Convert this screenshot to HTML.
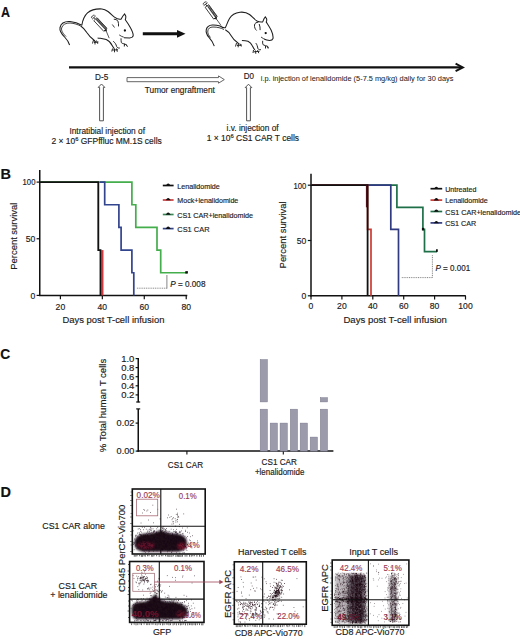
<!DOCTYPE html>
<html><head><meta charset="utf-8"><style>
html,body{margin:0;padding:0;background:#fff;width:520px;height:639px;overflow:hidden}
svg{display:block}
text{font-family:"Liberation Sans", sans-serif}
</style></head><body>
<svg width="520" height="639" viewBox="0 0 520 639" fill="#1c1c1c">
<defs><filter id="bl" x="-30%" y="-30%" width="160%" height="160%"><feGaussianBlur stdDeviation="1.8"/></filter><filter id="bl1" x="-30%" y="-30%" width="160%" height="160%"><feGaussianBlur stdDeviation="1.1"/></filter></defs>
<rect width="520" height="639" fill="#fff"/>
<text x="0.90" y="16.90" font-size="14.5" fill="#111" stroke="#111" stroke-width="0.16" font-weight="bold" textLength="9.00" lengthAdjust="spacingAndGlyphs">A</text>
<path d="M81.8,25.3 C78,23 74,21.9 70,21.6 C65,21.3 61,23.5 60,27.5 C59.3,31 62,34.5 65,37.5 C67.5,40 68.8,42.5 69.6,45" stroke="#1e1e1e" stroke-width="1.05" fill="none"/>
<path d="M81.5,26.5 C78,24.5 74,23.2 70,23 C66,22.8 62.5,24.5 61.6,28 C61,31 63.5,34 66,36.5" stroke="#1e1e1e" stroke-width="0.85" fill="none"/>
<path d="M81.8,25.3 C82.5,21 84,16 87.5,12.8 C91,9.8 96,8.6 101.9,8.9 C104,9 106,10 108,11.5 C110.5,13.5 112.5,15.5 114.5,17.2 C116.5,18.7 119,19.5 121,19.2 L122.9,16.0 L124.6,13.9 L125.8,16.2 C125.9,17.5 125.7,18.8 125.3,19.7 C127,22 129,25 130.6,28 C132.2,31 133.3,33.5 133.2,35.5 C133,37 131.5,37.8 129.6,37.9 L124,37.7" stroke="#1e1e1e" stroke-width="1.05" fill="none"/>
<path d="M113.8,19.2 C115.5,19.3 117,19.8 117.9,21 C118.6,22.6 118.6,24.5 118.5,26.4" stroke="#1e1e1e" stroke-width="0.95" fill="none"/>
<path d="M112.3,24.5 L114.5,27.5" stroke="#1e1e1e" stroke-width="0.85" fill="none"/>
<path d="M119.2,34.9 C120.8,36 122.3,36.8 123.8,37.2" stroke="#1e1e1e" stroke-width="0.85" fill="none"/>
<circle cx="124.9" cy="30.5" r="1.15" fill="#111"/>
<path d="M81,26.2 C83,27.5 85,29.5 86.8,32.5 C88.5,35 90.5,37.5 93,39.3 C94.2,40.2 95,41 95.5,42" stroke="#1e1e1e" stroke-width="1.05" fill="none"/>
<path d="M93.5,40 L92.5,43.5 M95,41 L95,44.5 M96.5,40.5 L97.8,43.8 M94,42.5 L98.5,42" stroke="#1e1e1e" stroke-width="0.95" fill="none"/>
<path d="M97.6,37.9 C101,38.5 104,38.8 106.2,39.6 C108.5,40.5 110.8,43 112.3,45.7 C113,47 113.8,48.2 114.5,48.8" stroke="#1e1e1e" stroke-width="1.05" fill="none"/>
<path d="M112.5,48.5 L111.8,51.5 M114.5,49 L114.5,52.3 M116.5,48.5 L117.3,51.8 M112.5,50 L118,49.8" stroke="#1e1e1e" stroke-width="0.95" fill="none"/>
<path d="M113.2,41.3 C115,42.5 116.2,44.5 116.6,46.5 C117.2,47.8 118.5,48.3 119.8,48" stroke="#1e1e1e" stroke-width="0.95" fill="none"/>
<path d="M121,38.3 C121.2,40 121,41.5 121.3,42.5 C122,43.5 123.5,43.8 125,44 L127,45.5 M124.5,44 L124.3,46.5 M126.3,44.5 L127.5,46.8" stroke="#1e1e1e" stroke-width="0.95" fill="none"/>
<path d="M105.99,30.50 L109.2,38.2" stroke="#222" stroke-width="0.75"/>
<g transform="translate(100.4,24.5) rotate(47)"><rect x="-7.3" y="-2.2" width="14.6" height="4.4" fill="#fff" stroke="#222" stroke-width="0.8"/><rect x="-6.7" y="-2.2" width="13.4" height="2.3" fill="#3a3a3a"/><path d="M-6.3,-1.2 L6.3,-1.2" stroke="#fff" stroke-width="0.5" stroke-dasharray="0.9 0.7"/><path d="M-7.3,0 L-9.5,0 M-9.5,-2.4 L-9.5,2.4 M-10.5,-2.0 C-12.1,-2.0 -12.1,2.0 -10.5,2.0" stroke="#222" stroke-width="0.85" fill="none"/><path d="M7.3,-1.3 L8.9,0 L7.3,1.3 Z" fill="#111" stroke="#111" stroke-width="0.5"/></g>
<path d="M220.1,26 C217.5,25.3 215,25 212.3,25.1 C209.5,25.3 207,26.8 206.3,29.5 C205.6,32.5 207,35 208.8,37.2 C211,39.6 213,42.5 214.3,46.2" stroke="#1e1e1e" stroke-width="1.05" fill="none"/>
<path d="M224,29.5 C221,28 217.5,27 213,27 C210,27 208,28.5 207.8,31 C207.5,33.5 208.8,35.5 210.5,37.5" stroke="#1e1e1e" stroke-width="0.85" fill="none"/>
<path d="M220.1,26 C222,27.3 224,28 225.3,27.7 C226.5,25.5 227.5,22 229.5,18.5 C231.5,15 235,12.8 240,12.2 C244,11.8 247,12.6 249.5,14.5 C252,16.5 254.5,19.5 257,21 C259,22 261,22.2 262.7,21.9 L264,18.8 L265.3,17 L266.6,18.8 C266.9,20 266.7,21 266.2,21.9 C267.5,24 269.5,27 271.2,30.2 C272.7,33.5 273.3,36.5 273,38.5 C272.5,40 271,40.5 269.6,40.5 C267.5,40.4 265.8,40 264.5,39.3" stroke="#1e1e1e" stroke-width="1.05" fill="none"/>
<path d="M258.4,22.3 C256.5,22.2 254.8,23 254.5,25 C254.3,27.3 255.2,29.3 256.6,30.5" stroke="#1e1e1e" stroke-width="0.95" fill="none"/>
<path d="M259.2,24 C260,26 260.2,28 260.1,30.1" stroke="#1e1e1e" stroke-width="0.95" fill="none"/>
<path d="M261,37 C262.5,38.2 264,39 265.5,39.5" stroke="#1e1e1e" stroke-width="0.85" fill="none"/>
<circle cx="265.7" cy="33.1" r="1.15" fill="#111"/>
<path d="M225.3,29.8 C227.5,31 229.5,33 231,35.5 C232.5,38 234.5,40.5 236.8,42 C237.8,42.7 238.5,43.5 239,44.5" stroke="#1e1e1e" stroke-width="1.05" fill="none"/>
<path d="M236.5,43 L235.5,46.5 M238.2,43.8 L238.2,47.3 M239.8,43.5 L241.3,46.5 M237,45.5 L242,45" stroke="#1e1e1e" stroke-width="0.95" fill="none"/>
<path d="M241.9,40.5 C244.5,40.5 246.5,40.8 248,41.3 C250,42.3 251.5,44 252.3,45.7 C253.2,47.5 254,49 254.9,50" stroke="#1e1e1e" stroke-width="1.05" fill="none"/>
<path d="M253.5,50 L253,53 M255.5,50.5 L255.8,53.8 M257.5,50.2 L258.8,53.2 M254,51.8 L259.5,51.3" stroke="#1e1e1e" stroke-width="0.95" fill="none"/>
<path d="M255.8,43.1 C257,44.5 257.5,46.5 257.9,48.5 C258.5,49.7 259.8,50 261,49.6" stroke="#1e1e1e" stroke-width="0.95" fill="none"/>
<path d="M262.7,40.8 C262.5,42.5 262.6,44 263.2,44.8 C264.5,45.5 266,45.8 267.5,46.2 L268.5,47.8 M265.5,46 L265.5,48.5 M267.2,46.3 L268.2,48.6" stroke="#1e1e1e" stroke-width="0.95" fill="none"/>
<path d="M216.02,18.53 L221.0,25.4" stroke="#222" stroke-width="0.75"/>
<g transform="translate(211.2,11.9) rotate(54)"><rect x="-7.3" y="-2.2" width="14.6" height="4.4" fill="#fff" stroke="#222" stroke-width="0.8"/><rect x="-6.7" y="-2.2" width="13.4" height="2.3" fill="#3a3a3a"/><path d="M-6.3,-1.2 L6.3,-1.2" stroke="#fff" stroke-width="0.5" stroke-dasharray="0.9 0.7"/><path d="M-7.3,0 L-9.5,0 M-9.5,-2.4 L-9.5,2.4 M-10.5,-2.0 C-12.1,-2.0 -12.1,2.0 -10.5,2.0" stroke="#222" stroke-width="0.85" fill="none"/><path d="M7.3,-1.3 L8.9,0 L7.3,1.3 Z" fill="#111" stroke="#111" stroke-width="0.5"/></g>
<line x1="142.80" y1="33.80" x2="178.00" y2="33.80" stroke="#111" stroke-width="3"/>
<polygon points="177,30 185.5,33.8 177,37.7" fill="#111"/>
<line x1="69.00" y1="67.40" x2="462.00" y2="67.40" stroke="#111" stroke-width="2.3"/>
<path d="M455.6,63.7 L462.8,67.4 L455.6,71.1" stroke="#111" stroke-width="2.0" fill="none" stroke-linejoin="miter"/>
<text x="95.00" y="79.60" font-size="8.82" stroke="#1c1c1c" stroke-width="0.16" textLength="13.20" lengthAdjust="spacingAndGlyphs">D-5</text>
<text x="243.80" y="78.90" font-size="8.72" stroke="#1c1c1c" stroke-width="0.16" textLength="10.20" lengthAdjust="spacingAndGlyphs">D0</text>
<text x="260.80" y="80.90" font-size="7.88" stroke="#1c1c1c" stroke-width="0.05" textLength="192.60" lengthAdjust="spacingAndGlyphs">i.p. injection of lenalidomide (5-7.5 mg/kg) daily for 30 days</text>
<path d="M127,77.6 L218.5,77.6 L218.5,75.9 L224.3,79.6 L218.5,83.2 L218.5,81.7 L127,81.7 Z" fill="#fff" stroke="#555" stroke-width="0.9"/>
<text x="144.80" y="92.80" font-size="8.61" stroke="#1c1c1c" stroke-width="0.16" textLength="70.00" lengthAdjust="spacingAndGlyphs">Tumor engraftment</text>
<path d="M99.6,120.8 L99.6,87.4 L98.2,87.4 L101.5,84 L104.8,87.4 L103.4,87.4 L103.4,120.8 Z" fill="#fff" stroke="#4a4a4a" stroke-width="0.95"/>
<path d="M246.6,120.8 L246.6,87.60000000000001 L245.2,87.60000000000001 L248.5,84.2 L251.8,87.60000000000001 L250.4,87.60000000000001 L250.4,120.8 Z" fill="#fff" stroke="#4a4a4a" stroke-width="0.95"/>
<text x="107.20" y="133.80" font-size="8.61" text-anchor="middle" stroke="#1c1c1c" stroke-width="0.16" textLength="75.50" lengthAdjust="spacingAndGlyphs">Intratibial injection of</text>
<text x="51.50" y="144.10" font-size="8.45" stroke="#1c1c1c" stroke-width="0.16">2 × 10<tspan dy="-3" font-size="5.8">6</tspan><tspan dy="3"> GFPffluc MM.1S cells</tspan></text>
<text x="252.60" y="131.40" font-size="8.61" text-anchor="middle" stroke="#1c1c1c" stroke-width="0.16" textLength="52.00" lengthAdjust="spacingAndGlyphs">i.v. injection of</text>
<text x="206.80" y="141.20" font-size="8.45" stroke="#1c1c1c" stroke-width="0.16">1 × 10<tspan dy="-3" font-size="5.8">6</tspan><tspan dy="3"> CS1 CAR T cells</tspan></text>
<text x="0.40" y="178.60" font-size="14.5" fill="#111" stroke="#111" stroke-width="0.16" font-weight="bold">B</text>
<line x1="39.75" y1="170.00" x2="39.75" y2="296.10" stroke="#111" stroke-width="1.5"/>
<line x1="39.00" y1="295.40" x2="187.30" y2="295.40" stroke="#111" stroke-width="1.5"/>
<line x1="36.60" y1="182.10" x2="40.00" y2="182.10" stroke="#111" stroke-width="1.2"/>
<text x="35.40" y="185.40" font-size="8.72" text-anchor="end" stroke="#1c1c1c" stroke-width="0.16" textLength="12.80" lengthAdjust="spacingAndGlyphs">100</text>
<line x1="36.60" y1="238.75" x2="40.00" y2="238.75" stroke="#111" stroke-width="1.2"/>
<text x="35.40" y="242.05" font-size="8.6" text-anchor="end" stroke="#1c1c1c" stroke-width="0.16">50</text>
<line x1="36.60" y1="295.40" x2="40.00" y2="295.40" stroke="#111" stroke-width="1.2"/>
<text x="35.40" y="298.70" font-size="8.6" text-anchor="end" stroke="#1c1c1c" stroke-width="0.16">0</text>
<line x1="60.40" y1="295.40" x2="60.40" y2="299.20" stroke="#111" stroke-width="1.2"/>
<text x="60.40" y="309.60" font-size="8.6" text-anchor="middle" stroke="#1c1c1c" stroke-width="0.16">20</text>
<line x1="102.34" y1="295.40" x2="102.34" y2="299.20" stroke="#111" stroke-width="1.2"/>
<text x="102.34" y="309.60" font-size="8.6" text-anchor="middle" stroke="#1c1c1c" stroke-width="0.16">40</text>
<line x1="144.28" y1="295.40" x2="144.28" y2="299.20" stroke="#111" stroke-width="1.2"/>
<text x="144.28" y="309.60" font-size="8.6" text-anchor="middle" stroke="#1c1c1c" stroke-width="0.16">60</text>
<line x1="186.22" y1="295.40" x2="186.22" y2="299.20" stroke="#111" stroke-width="1.2"/>
<text x="186.22" y="309.60" font-size="8.6" text-anchor="middle" stroke="#1c1c1c" stroke-width="0.16">80</text>
<text x="0.00" y="0.00" font-size="9.87" text-anchor="middle" stroke="#1c1c1c" stroke-width="0.16" textLength="67.00" lengthAdjust="spacingAndGlyphs" transform="translate(17.1,236.2) rotate(-90)">Percent survival</text>
<text x="113.40" y="322.60" font-size="9.66" text-anchor="middle" stroke="#1c1c1c" stroke-width="0.16" textLength="102.00" lengthAdjust="spacingAndGlyphs">Days post T-cell infusion</text>
<path d="M40,182.09999999999997 L131.9,182.09999999999997 L131.9,204.76 L135.8,204.76 L135.8,227.41999999999996 L157,227.41999999999996 L157,250.07999999999998 L160.7,250.07999999999998 L160.7,272.73999999999995 L187,272.73999999999995" stroke="#44ad4c" stroke-width="1.7" fill="none"/>
<path d="M100,182.09999999999997 L104.7,182.09999999999997 L104.7,204.76 L118.9,204.76 L118.9,227.41999999999996 L121.1,227.41999999999996 L121.1,250.07999999999998 L131.9,250.07999999999998 L131.9,272.73999999999995 L133.8,272.73999999999995 L133.8,295.4" stroke="#33448f" stroke-width="1.7" fill="none"/>
<path d="M102.4,250.07999999999998 L102.4,295.4" stroke="#d03a3e" stroke-width="2.2" fill="none"/>
<path d="M40,182.09999999999997 L98.3,182.09999999999997 L98.3,250.07999999999998 L100.5,250.07999999999998 L100.5,295.4" stroke="#111" stroke-width="1.85" fill="none"/>
<rect x="185.3" y="271.14" width="2.6" height="2.4" fill="#111"/>
<line x1="136.90" y1="288.20" x2="167.00" y2="288.20" stroke="#777" stroke-width="0.9" stroke-dasharray="1 0.8"/>
<line x1="166.90" y1="275.00" x2="166.90" y2="288.60" stroke="#777" stroke-width="0.9"/>
<text x="170.20" y="286.50" font-size="8.61" stroke="#1c1c1c" stroke-width="0.16" textLength="35.30" lengthAdjust="spacingAndGlyphs"><tspan font-style="italic">P</tspan> = 0.008</text>
<line x1="162.80" y1="185.50" x2="173.60" y2="185.50" stroke="#111" stroke-width="1.7"/>
<path d="M165.60,185.80 C166.60,184.90 167.00,183.50 168.20,183.50 C169.40,183.50 169.80,184.90 170.80,185.80 Z" fill="#111"/>
<text x="177.30" y="188.60" font-size="7.98" stroke="#1c1c1c" stroke-width="0.16" textLength="42.50" lengthAdjust="spacingAndGlyphs">Lenalidomide</text>
<line x1="162.80" y1="200.00" x2="173.60" y2="200.00" stroke="#d03a3e" stroke-width="1.7"/>
<path d="M165.60,200.30 C166.60,199.40 167.00,198.00 168.20,198.00 C169.40,198.00 169.80,199.40 170.80,200.30 Z" fill="#111"/>
<text x="177.30" y="203.10" font-size="7.98" stroke="#1c1c1c" stroke-width="0.16" textLength="61.00" lengthAdjust="spacingAndGlyphs">Mock+lenalidomide</text>
<line x1="162.80" y1="214.50" x2="173.60" y2="214.50" stroke="#3a8a56" stroke-width="1.7"/>
<path d="M165.60,214.80 C166.60,213.90 167.00,212.50 168.20,212.50 C169.40,212.50 169.80,213.90 170.80,214.80 Z" fill="#111"/>
<text x="177.30" y="217.60" font-size="7.98" stroke="#1c1c1c" stroke-width="0.16" textLength="75.80" lengthAdjust="spacingAndGlyphs">CS1 CAR+lenalidomide</text>
<line x1="162.80" y1="228.60" x2="173.60" y2="228.60" stroke="#33448f" stroke-width="1.7"/>
<path d="M165.60,228.90 C166.60,228.00 167.00,226.60 168.20,226.60 C169.40,226.60 169.80,228.00 170.80,228.90 Z" fill="#111"/>
<text x="177.30" y="231.70" font-size="7.98" stroke="#1c1c1c" stroke-width="0.16" textLength="32.20" lengthAdjust="spacingAndGlyphs">CS1 CAR</text>
<line x1="311.00" y1="173.70" x2="311.00" y2="296.50" stroke="#111" stroke-width="1.5"/>
<line x1="310.25" y1="295.80" x2="465.80" y2="295.80" stroke="#111" stroke-width="1.5"/>
<line x1="307.80" y1="185.20" x2="311.20" y2="185.20" stroke="#111" stroke-width="1.2"/>
<text x="306.20" y="188.60" font-size="8.72" text-anchor="end" stroke="#1c1c1c" stroke-width="0.16" textLength="12.80" lengthAdjust="spacingAndGlyphs">100</text>
<line x1="307.80" y1="240.50" x2="311.20" y2="240.50" stroke="#111" stroke-width="1.2"/>
<text x="306.20" y="243.90" font-size="8.6" text-anchor="end" stroke="#1c1c1c" stroke-width="0.16">50</text>
<line x1="307.80" y1="295.80" x2="311.20" y2="295.80" stroke="#111" stroke-width="1.2"/>
<text x="306.20" y="299.20" font-size="8.6" text-anchor="end" stroke="#1c1c1c" stroke-width="0.16">0</text>
<line x1="311.00" y1="295.80" x2="311.00" y2="299.60" stroke="#111" stroke-width="1.2"/>
<text x="311.00" y="309.00" font-size="8.6" text-anchor="middle" stroke="#1c1c1c" stroke-width="0.16">0</text>
<line x1="341.90" y1="295.80" x2="341.90" y2="299.60" stroke="#111" stroke-width="1.2"/>
<text x="341.90" y="309.00" font-size="8.6" text-anchor="middle" stroke="#1c1c1c" stroke-width="0.16">20</text>
<line x1="372.80" y1="295.80" x2="372.80" y2="299.60" stroke="#111" stroke-width="1.2"/>
<text x="372.80" y="309.00" font-size="8.6" text-anchor="middle" stroke="#1c1c1c" stroke-width="0.16">40</text>
<line x1="403.70" y1="295.80" x2="403.70" y2="299.60" stroke="#111" stroke-width="1.2"/>
<text x="403.70" y="309.00" font-size="8.6" text-anchor="middle" stroke="#1c1c1c" stroke-width="0.16">60</text>
<line x1="434.60" y1="295.80" x2="434.60" y2="299.60" stroke="#111" stroke-width="1.2"/>
<text x="434.60" y="309.00" font-size="8.6" text-anchor="middle" stroke="#1c1c1c" stroke-width="0.16">80</text>
<line x1="465.50" y1="295.80" x2="465.50" y2="299.60" stroke="#111" stroke-width="1.2"/>
<text x="465.50" y="309.00" font-size="8.6" text-anchor="middle" stroke="#1c1c1c" stroke-width="0.16">100</text>
<text x="0.00" y="0.00" font-size="9.87" text-anchor="middle" stroke="#1c1c1c" stroke-width="0.16" textLength="67.00" lengthAdjust="spacingAndGlyphs" transform="translate(286.3,234.9) rotate(-90)">Percent survival</text>
<text x="395.20" y="322.50" font-size="9.66" text-anchor="middle" stroke="#1c1c1c" stroke-width="0.16" textLength="103.50" lengthAdjust="spacingAndGlyphs">Days post T-cell infusion</text>
<path d="M311,185.2 L396.9,185.2 L396.9,207.32 L422.9,207.32 L422.9,229.44 L424.5,229.44 L424.5,251.56 L437,251.56" stroke="#1f7048" stroke-width="1.7" fill="none"/>
<path d="M311,185.2 L390.8,185.2 L390.8,229.44 L398.5,229.44 L398.5,295.8" stroke="#303a80" stroke-width="1.7" fill="none"/>
<path d="M311,185.2 L367.6,185.2 L367.6,229.44 L371,229.44 L371,295.8" stroke="#cc3a34" stroke-width="1.7" fill="none"/>
<path d="M311,185.2 L367.6,185.2 L367.6,295.8" stroke="#111" stroke-width="1.8" fill="none"/>
<path d="M366.6,185.2 L366.6,207.32" stroke="#4a1018" stroke-width="1.4" fill="none"/>
<rect x="421.9" y="227.84" width="2.2" height="2.6" fill="#111"/>
<rect x="436" y="249.26" width="1.8" height="2.6" fill="#111"/>
<line x1="401.80" y1="277.60" x2="432.40" y2="277.60" stroke="#777" stroke-width="0.9" stroke-dasharray="1 0.8"/>
<line x1="432.40" y1="255.20" x2="432.40" y2="278.00" stroke="#777" stroke-width="0.9" stroke-dasharray="1 0.8"/>
<text x="435.40" y="270.80" font-size="8.51" stroke="#1c1c1c" stroke-width="0.16" textLength="34.80" lengthAdjust="spacingAndGlyphs"><tspan font-style="italic">P</tspan> = 0.001</text>
<line x1="430.50" y1="188.70" x2="442.20" y2="188.70" stroke="#111" stroke-width="1.7"/>
<path d="M433.75,189.00 C434.75,188.10 435.15,186.70 436.35,186.70 C437.55,186.70 437.95,188.10 438.95,189.00 Z" fill="#111"/>
<text x="445.20" y="191.80" font-size="7.98" stroke="#1c1c1c" stroke-width="0.16" textLength="31.20" lengthAdjust="spacingAndGlyphs">Untreated</text>
<line x1="430.50" y1="200.10" x2="442.20" y2="200.10" stroke="#cc3a34" stroke-width="1.7"/>
<path d="M433.75,200.40 C434.75,199.50 435.15,198.10 436.35,198.10 C437.55,198.10 437.95,199.50 438.95,200.40 Z" fill="#111"/>
<text x="445.20" y="203.20" font-size="7.98" stroke="#1c1c1c" stroke-width="0.16" textLength="42.60" lengthAdjust="spacingAndGlyphs">Lenalidomide</text>
<line x1="430.50" y1="211.50" x2="442.20" y2="211.50" stroke="#1f7048" stroke-width="1.7"/>
<path d="M433.75,211.80 C434.75,210.90 435.15,209.50 436.35,209.50 C437.55,209.50 437.95,210.90 438.95,211.80 Z" fill="#111"/>
<text x="445.20" y="214.60" font-size="7.98" stroke="#1c1c1c" stroke-width="0.16" textLength="75.80" lengthAdjust="spacingAndGlyphs">CS1 CAR+lenalidomide</text>
<line x1="430.50" y1="222.90" x2="442.20" y2="222.90" stroke="#303a80" stroke-width="1.7"/>
<path d="M433.75,223.20 C434.75,222.30 435.15,220.90 436.35,220.90 C437.55,220.90 437.95,222.30 438.95,223.20 Z" fill="#111"/>
<text x="445.20" y="226.00" font-size="7.98" stroke="#1c1c1c" stroke-width="0.16" textLength="31.00" lengthAdjust="spacingAndGlyphs">CS1 CAR</text>
<text x="0.20" y="358.50" font-size="14.5" fill="#111" stroke="#111" stroke-width="0.16" font-weight="bold" textLength="10.00" lengthAdjust="spacingAndGlyphs">C</text>
<line x1="138.25" y1="358.00" x2="138.25" y2="402.20" stroke="#111" stroke-width="1.5"/>
<line x1="136.20" y1="402.00" x2="140.20" y2="402.00" stroke="#111" stroke-width="1.2"/>
<line x1="136.20" y1="408.90" x2="140.20" y2="408.90" stroke="#111" stroke-width="1.2"/>
<line x1="138.25" y1="408.90" x2="138.25" y2="451.80" stroke="#111" stroke-width="1.5"/>
<line x1="137.50" y1="451.10" x2="333.40" y2="451.10" stroke="#111" stroke-width="1.5"/>
<line x1="135.60" y1="358.60" x2="138.40" y2="358.60" stroke="#111" stroke-width="1.2"/>
<text x="134.40" y="361.70" font-size="9.45" text-anchor="end" stroke="#1c1c1c" stroke-width="0.16" textLength="13.20" lengthAdjust="spacingAndGlyphs">1.0</text>
<line x1="135.60" y1="367.60" x2="138.40" y2="367.60" stroke="#111" stroke-width="1.2"/>
<text x="134.40" y="370.70" font-size="9.45" text-anchor="end" stroke="#1c1c1c" stroke-width="0.16" textLength="13.20" lengthAdjust="spacingAndGlyphs">0.8</text>
<line x1="135.60" y1="376.70" x2="138.40" y2="376.70" stroke="#111" stroke-width="1.2"/>
<text x="134.40" y="379.80" font-size="9.45" text-anchor="end" stroke="#1c1c1c" stroke-width="0.16" textLength="13.20" lengthAdjust="spacingAndGlyphs">0.6</text>
<line x1="135.60" y1="385.80" x2="138.40" y2="385.80" stroke="#111" stroke-width="1.2"/>
<text x="134.40" y="388.90" font-size="9.45" text-anchor="end" stroke="#1c1c1c" stroke-width="0.16" textLength="13.20" lengthAdjust="spacingAndGlyphs">0.4</text>
<line x1="135.60" y1="394.90" x2="138.40" y2="394.90" stroke="#111" stroke-width="1.2"/>
<text x="134.40" y="398.00" font-size="9.45" text-anchor="end" stroke="#1c1c1c" stroke-width="0.16" textLength="13.20" lengthAdjust="spacingAndGlyphs">0.2</text>
<line x1="135.60" y1="423.10" x2="138.40" y2="423.10" stroke="#111" stroke-width="1.2"/>
<text x="134.40" y="426.20" font-size="9.45" text-anchor="end" stroke="#1c1c1c" stroke-width="0.16" textLength="17.80" lengthAdjust="spacingAndGlyphs">0.02</text>
<line x1="135.60" y1="451.10" x2="138.40" y2="451.10" stroke="#111" stroke-width="1.2"/>
<text x="134.40" y="454.20" font-size="9.45" text-anchor="end" stroke="#1c1c1c" stroke-width="0.16" textLength="17.80" lengthAdjust="spacingAndGlyphs">0.00</text>
<line x1="186.90" y1="451.10" x2="186.90" y2="454.50" stroke="#111" stroke-width="1.1"/>
<line x1="283.30" y1="451.10" x2="283.30" y2="454.50" stroke="#111" stroke-width="1.1"/>
<text x="0.00" y="0.00" font-size="9.03" text-anchor="middle" stroke="#1c1c1c" stroke-width="0.16" textLength="93.50" lengthAdjust="spacingAndGlyphs" transform="translate(106.2,405.5) rotate(-90)">% Total human T cells</text>
<text x="185.40" y="468.10" font-size="8.51" text-anchor="middle" stroke="#1c1c1c" stroke-width="0.16" textLength="35.20" lengthAdjust="spacingAndGlyphs">CS1 CAR</text>
<text x="279.20" y="464.70" font-size="8.51" text-anchor="middle" stroke="#1c1c1c" stroke-width="0.16" textLength="35.20" lengthAdjust="spacingAndGlyphs">CS1 CAR</text>
<text x="279.70" y="474.80" font-size="8.51" text-anchor="middle" stroke="#1c1c1c" stroke-width="0.16" textLength="49.50" lengthAdjust="spacingAndGlyphs">+lenalidomide</text>
<rect x="260.2" y="359.6" width="7.2" height="42.30" fill="#9c9bac" stroke="#7a7a8c" stroke-width="0.5"/>
<rect x="260.2" y="409.2" width="7.2" height="41.90" fill="#9c9bac" stroke="#7a7a8c" stroke-width="0.5"/>
<rect x="270.2" y="423.1" width="7.2" height="28.00" fill="#9c9bac" stroke="#7a7a8c" stroke-width="0.5"/>
<rect x="280.1" y="423.1" width="7.2" height="28.00" fill="#9c9bac" stroke="#7a7a8c" stroke-width="0.5"/>
<rect x="290.3" y="409.2" width="7.2" height="41.90" fill="#9c9bac" stroke="#7a7a8c" stroke-width="0.5"/>
<rect x="300.2" y="423.1" width="7.2" height="28.00" fill="#9c9bac" stroke="#7a7a8c" stroke-width="0.5"/>
<rect x="310.2" y="437.1" width="7.2" height="14.00" fill="#9c9bac" stroke="#7a7a8c" stroke-width="0.5"/>
<rect x="320.3" y="397.7" width="7.2" height="4.20" fill="#9c9bac" stroke="#7a7a8c" stroke-width="0.5"/>
<rect x="320.3" y="409.2" width="7.2" height="41.90" fill="#9c9bac" stroke="#7a7a8c" stroke-width="0.5"/>
<text x="0.40" y="496.60" font-size="14.5" fill="#111" stroke="#111" stroke-width="0.16" font-weight="bold">D</text>
<path d="M134.3 554.9v1.8M135.8 554.9v1.8M137.0 554.9v1.4M139.6 554.9v1.4M141.4 554.9v2.0M142.6 554.9v2.0M144.1 554.9v1.4M145.3 554.9v1.8M147.5 554.9v1.4M149.0 554.9v1.4M151.6 554.9v1.8M152.8 554.9v2.0M154.0 554.9v1.4M156.6 554.9v1.4M159.2 554.9v2.0M161.4 554.9v1.4M162.9 554.9v1.4M165.5 554.9v1.4M167.3 554.9v1.8M168.8 554.9v2.0M170.0 554.9v2.0M171.8 554.9v2.0M173.3 554.9v1.4M175.9 554.9v2.0M177.4 554.9v1.8M178.6 554.9v2.0M179.8 554.9v2.0M181.0 554.9v2.0M182.5 554.9v1.8M185.1 554.9v1.8M186.9 554.9v1.8M189.5 554.9v1.8M191.3 554.9v1.8M192.8 554.9v1.4M194.3 554.9v1.4M196.9 554.9v1.8M199.5 554.9v1.8M201.3 554.9v2.0M203.5 554.9v1.8M131.7 492.0h-1.0M131.7 495.5h-1.4M131.7 500.5h-1.4M131.7 505.5h-1.4M131.7 513.5h-1.0M131.7 517.0h-1.4M131.7 523.5h-1.4M131.7 531.5h-1.4M131.7 535.0h-1.0M131.7 541.5h-1.4M131.7 545.0h-1.0M131.7 551.5h-1.4" stroke="#1a1a1a" stroke-width="0.8" opacity="0.85"/>
<rect x="132.3" y="489.0" width="72.9" height="65.0" fill="#fff"/>
<path d="M160.8,489.0 V554.0 M132.3,526.2 H205.2" stroke="#111" stroke-width="1.1"/>
<text x="176.50" y="548.00" font-size="8.82" fill="#9c3c56" stroke="#9c3c56" stroke-width="0.16" textLength="23.20" lengthAdjust="spacingAndGlyphs">14.4%</text>
<path d="M134.5,543 C134.5,536 140,533.5 147,533.5 C153,533.5 157,531 161,530.5 C165,531 168,533.5 174,533.5 C182,533.5 187,537 187,543 C187,549 183,551.8 175,551.8 L146,551.8 C139,551.8 134.5,549 134.5,543 Z" fill="#1a0818" filter="url(#bl1)"/>
<ellipse cx="146" cy="545.5" rx="9" ry="3.6" fill="#8a1834" opacity="0.7" filter="url(#bl1)"/>
<ellipse cx="181.5" cy="546" rx="4.5" ry="3.2" fill="#9a1a36" opacity="0.7" filter="url(#bl1)"/>
<path d="M143.3 529.7h0.7M139.8 548.5h0.7M141.0 542.2h0.7M143.8 551.6h0.7M141.9 542.1h0.7M141.4 544.8h0.7M152.9 546.8h0.7M134.3 539.1h0.7M159.8 541.2h0.7M142.5 545.0h0.7M151.2 543.7h0.7M146.3 541.2h0.7M149.6 538.7h0.7M146.0 545.3h0.7M135.6 540.2h0.7M145.2 544.8h0.7M160.2 530.6h0.7M139.2 533.9h0.7M159.3 539.3h0.7M139.0 539.8h0.7M139.3 546.2h0.7M142.5 544.3h0.7M156.1 541.4h0.7M155.9 547.2h0.7M155.8 546.7h0.7M144.5 540.5h0.7M149.2 547.6h0.7M132.9 530.8h0.7M139.3 537.9h0.7M154.4 546.6h0.7M156.6 541.0h0.7M145.2 545.1h0.7M147.0 532.1h0.7M134.1 543.2h0.7M141.3 541.6h0.7M154.7 540.3h0.7M140.1 529.6h0.7M147.4 537.0h0.7M144.7 540.0h0.7M152.8 536.0h0.7M153.7 538.9h0.7M148.8 549.4h0.7M134.9 541.9h0.7M135.7 535.1h0.7M147.3 538.1h0.7M147.6 548.1h0.7M148.9 538.2h0.7M133.2 542.4h0.7M162.0 541.3h0.7M141.5 542.7h0.7M140.8 538.6h0.7M151.9 533.0h0.7M150.5 543.4h0.7M139.4 543.0h0.7M146.6 541.8h0.7M153.6 539.0h0.7M137.0 533.1h0.7M153.1 546.1h0.7M145.6 538.1h0.7M154.0 537.9h0.7M144.6 540.1h0.7M159.8 538.8h0.7M133.4 544.3h0.7M151.3 543.8h0.7M149.0 541.9h0.7M139.0 538.4h0.7M140.5 535.2h0.7M139.1 538.1h0.7M151.6 540.7h0.7M145.3 541.6h0.7M151.2 532.8h0.7M158.3 548.0h0.7M152.8 542.7h0.7M142.1 548.7h0.7M148.5 540.2h0.7M145.9 529.2h0.7M138.8 532.6h0.7M150.2 539.8h0.7M152.9 547.9h0.7M157.3 534.6h0.7M135.6 535.5h0.7M149.8 544.7h0.7M143.8 539.9h0.7M158.9 545.4h0.7M137.4 540.7h0.7M149.9 529.7h0.7M152.2 543.4h0.7M150.7 542.7h0.7M145.1 542.4h0.7M149.4 540.7h0.7M142.5 539.5h0.7M145.3 549.0h0.7M150.6 535.3h0.7M147.2 549.3h0.7M160.9 532.3h0.7M162.9 536.1h0.7M149.7 548.2h0.7M139.7 545.0h0.7M141.9 550.2h0.7M141.7 543.8h0.7M145.6 544.9h0.7M150.4 528.0h0.7M142.0 537.5h0.7M146.9 545.3h0.7M133.2 544.0h0.7M161.7 549.0h0.7M153.6 549.6h0.7M149.2 551.3h0.7M155.6 541.8h0.7M140.0 544.7h0.7M153.8 545.1h0.7M142.1 547.7h0.7M144.6 536.3h0.7M139.9 541.5h0.7M151.0 541.3h0.7M152.3 539.9h0.7M149.5 540.2h0.7M153.0 551.2h0.7M154.0 531.4h0.7M137.8 529.0h0.7M138.2 546.1h0.7M137.1 541.3h0.7M143.8 546.3h0.7M148.7 538.4h0.7M152.3 539.1h0.7M150.6 542.3h0.7M146.2 550.2h0.7M148.1 546.6h0.7M147.9 542.6h0.7M155.8 541.8h0.7M157.2 537.8h0.7M159.9 544.5h0.7M167.8 536.0h0.7M146.6 545.8h0.7M157.9 538.5h0.7M141.3 541.2h0.7M135.0 545.0h0.7M145.0 552.7h0.7M149.3 541.9h0.7M157.0 542.8h0.7M157.1 541.0h0.7M147.3 548.5h0.7M140.3 534.7h0.7M141.1 535.7h0.7M164.3 531.8h0.7M144.9 545.9h0.7M147.7 546.0h0.7M157.1 535.5h0.7M163.1 540.7h0.7M158.9 542.8h0.7M153.6 537.6h0.7M158.8 545.0h0.7M139.6 546.8h0.7M158.3 540.5h0.7M146.1 540.3h0.7M149.7 546.4h0.7M155.1 542.1h0.7M146.0 543.4h0.7M151.4 539.2h0.7M150.1 546.9h0.7M152.9 544.4h0.7M143.4 538.2h0.7M147.6 539.4h0.7M148.9 538.9h0.7M139.7 538.9h0.7M143.3 550.0h0.7M165.4 549.6h0.7M150.0 539.2h0.7M158.6 535.4h0.7M135.1 536.2h0.7M145.2 535.1h0.7M144.5 550.1h0.7M156.7 550.8h0.7M144.8 535.0h0.7M135.1 546.0h0.7M147.2 534.2h0.7M147.6 541.0h0.7M141.1 532.1h0.7M141.9 527.4h0.7M144.8 540.0h0.7M158.7 544.2h0.7M155.0 540.5h0.7M144.4 542.6h0.7M157.4 542.9h0.7M147.2 546.7h0.7M143.9 542.6h0.7M163.5 536.7h0.7M155.7 546.0h0.7M146.7 535.2h0.7M153.0 531.2h0.7M148.4 552.0h0.7M148.5 550.6h0.7M163.5 548.1h0.7M146.4 543.8h0.7M143.2 539.0h0.7M140.8 538.8h0.7M139.4 534.5h0.7M143.7 539.8h0.7M137.3 542.8h0.7M150.8 541.5h0.7M149.0 548.8h0.7M145.2 537.2h0.7M157.7 541.7h0.7M145.6 544.4h0.7M140.1 542.8h0.7M156.0 545.3h0.7M174.2 541.4h0.7M150.0 541.0h0.7M158.9 547.3h0.7M146.4 547.6h0.7M137.4 536.9h0.7M146.2 544.9h0.7M140.4 547.3h0.7M153.1 537.8h0.7M143.4 536.4h0.7M145.7 535.8h0.7M143.9 544.1h0.7M143.3 546.6h0.7M142.5 547.1h0.7M152.2 540.5h0.7M160.9 542.7h0.7M146.9 544.2h0.7M133.8 549.7h0.7M164.2 548.3h0.7M147.6 530.2h0.7M146.5 543.9h0.7M140.7 534.8h0.7M140.2 544.0h0.7M149.2 531.6h0.7M145.1 542.6h0.7M147.6 536.0h0.7M154.7 536.6h0.7M148.0 544.4h0.7M155.0 539.5h0.7M143.5 539.8h0.7M153.7 536.9h0.7M156.1 538.0h0.7M151.2 547.5h0.7M145.7 546.5h0.7M146.1 533.3h0.7M141.8 544.5h0.7M134.4 542.9h0.7M155.9 547.9h0.7M155.9 545.2h0.7M151.1 535.0h0.7M139.7 543.6h0.7M147.5 535.7h0.7M140.9 540.7h0.7M151.9 548.8h0.7M143.6 547.2h0.7M149.1 538.2h0.7M164.1 543.5h0.7M136.6 548.7h0.7M148.7 546.6h0.7M147.1 535.0h0.7M139.8 539.4h0.7M143.0 535.2h0.7M151.1 530.7h0.7M162.1 549.0h0.7M137.8 547.7h0.7" stroke="#1a0818" stroke-width="0.7" fill="none"/>
<path d="M165.9 544.1h0.7M182.3 528.0h0.7M179.6 546.4h0.7M174.4 531.6h0.7M183.2 540.7h0.7M191.6 547.9h0.7M182.9 538.9h0.7M163.4 543.3h0.7M174.3 538.0h0.7M186.0 548.8h0.7M167.7 531.3h0.7M176.0 540.5h0.7M173.1 541.7h0.7M181.2 547.3h0.7M186.9 544.2h0.7M185.3 540.1h0.7M163.5 540.9h0.7M173.4 539.4h0.7M175.5 546.2h0.7M173.1 541.7h0.7M143.7 537.5h0.7M171.6 547.0h0.7M176.6 538.3h0.7M161.8 540.8h0.7M182.1 543.1h0.7M171.2 540.4h0.7M179.4 553.3h0.7M170.8 540.1h0.7M174.3 548.0h0.7M165.8 546.9h0.7M168.2 533.3h0.7M167.1 546.4h0.7M180.5 542.2h0.7M174.9 540.2h0.7M167.0 542.1h0.7M173.6 538.2h0.7M166.1 543.0h0.7M176.3 540.2h0.7M164.2 536.4h0.7M181.3 538.0h0.7M175.6 540.9h0.7M156.2 534.7h0.7M174.9 542.4h0.7M165.3 538.6h0.7M171.6 538.4h0.7M159.5 544.8h0.7M171.3 544.6h0.7M177.8 543.7h0.7M177.8 549.9h0.7M163.0 541.0h0.7M167.5 550.6h0.7M186.9 527.8h0.7M169.0 543.0h0.7M176.3 543.1h0.7M156.6 547.8h0.7M158.9 538.3h0.7M161.8 548.8h0.7M167.1 551.8h0.7M185.0 546.7h0.7M176.8 548.8h0.7M165.5 543.7h0.7M172.2 535.4h0.7M168.4 538.8h0.7M166.5 537.8h0.7M165.9 546.6h0.7M174.1 540.0h0.7M174.1 544.0h0.7M166.3 538.6h0.7M187.4 544.6h0.7M165.4 529.8h0.7M168.8 550.9h0.7M159.6 536.1h0.7M176.1 541.3h0.7M175.0 539.5h0.7M170.8 535.7h0.7M175.6 531.9h0.7M187.1 536.5h0.7M180.1 547.0h0.7M193.8 542.7h0.7M168.5 550.4h0.7M176.8 545.5h0.7M179.4 537.1h0.7M175.6 534.4h0.7M164.1 541.6h0.7M177.9 547.0h0.7M166.9 536.6h0.7M167.9 541.1h0.7M169.2 543.2h0.7M184.3 545.6h0.7M175.4 547.9h0.7M197.0 540.9h0.7M175.2 544.7h0.7M154.6 545.0h0.7M174.1 549.2h0.7M175.3 532.3h0.7M174.4 537.2h0.7M171.7 546.5h0.7M172.8 546.5h0.7M167.6 543.4h0.7M173.7 546.7h0.7M177.9 539.9h0.7M179.3 543.7h0.7M173.3 549.1h0.7M170.6 539.8h0.7M170.6 542.4h0.7M191.6 542.3h0.7M174.2 548.3h0.7M160.1 550.5h0.7M173.3 543.9h0.7M159.4 535.6h0.7M174.2 544.2h0.7M167.4 541.7h0.7M160.6 536.0h0.7M172.5 541.4h0.7M163.8 535.1h0.7M171.5 543.3h0.7M171.6 543.5h0.7M175.5 542.0h0.7M170.8 529.2h0.7M179.6 532.2h0.7M165.7 545.0h0.7M170.4 540.4h0.7M183.3 543.3h0.7M163.8 542.6h0.7M176.8 533.8h0.7M179.3 547.9h0.7M167.8 537.2h0.7M168.4 536.8h0.7M187.1 545.0h0.7M179.9 538.0h0.7M188.3 543.1h0.7M177.2 534.1h0.7M165.9 545.7h0.7M182.0 539.8h0.7M175.4 544.4h0.7M183.0 546.1h0.7M162.8 549.5h0.7M175.0 543.4h0.7M183.2 550.2h0.7M163.6 546.6h0.7M186.2 537.8h0.7M176.9 546.7h0.7M175.9 545.0h0.7M181.1 544.3h0.7M173.4 531.7h0.7M175.6 537.4h0.7M174.4 540.5h0.7M179.7 539.4h0.7M163.0 536.8h0.7M185.2 546.7h0.7M165.8 530.7h0.7M161.7 533.2h0.7M164.0 536.5h0.7M176.4 548.2h0.7M170.6 541.3h0.7M177.9 540.7h0.7M169.8 544.6h0.7M189.3 540.0h0.7M179.6 553.3h0.7M180.4 534.8h0.7M169.1 537.5h0.7M165.4 546.1h0.7M182.1 533.8h0.7M168.4 538.0h0.7M173.0 547.8h0.7M165.8 547.1h0.7M173.3 542.4h0.7M183.0 541.4h0.7M161.2 544.6h0.7M180.2 532.0h0.7M176.4 536.6h0.7M180.7 544.2h0.7M162.3 549.8h0.7M159.8 541.8h0.7M177.6 542.8h0.7M179.9 539.6h0.7M172.3 539.7h0.7M173.2 529.7h0.7M164.0 533.7h0.7M176.3 542.3h0.7M162.6 536.1h0.7M176.7 544.0h0.7M178.6 538.9h0.7M179.0 532.4h0.7M167.4 533.5h0.7M176.1 552.8h0.7M167.7 539.2h0.7M167.4 549.2h0.7M181.2 538.4h0.7M161.0 543.0h0.7M168.1 539.2h0.7M168.8 544.8h0.7M162.5 546.7h0.7M171.6 547.1h0.7M161.6 549.2h0.7M171.6 551.9h0.7M190.0 545.4h0.7M182.7 540.7h0.7M159.4 540.8h0.7M178.4 539.3h0.7M155.7 539.5h0.7M172.3 536.4h0.7M166.9 545.9h0.7M177.9 546.1h0.7M178.7 544.1h0.7M156.0 532.3h0.7M169.9 548.7h0.7M187.2 532.3h0.7M184.6 536.3h0.7M172.9 537.9h0.7M169.8 549.9h0.7M165.6 544.7h0.7M183.0 544.0h0.7M170.9 540.8h0.7M184.0 544.5h0.7M169.4 548.7h0.7M163.9 540.7h0.7M171.5 544.9h0.7M161.7 550.1h0.7M173.8 542.8h0.7M177.5 533.4h0.7M169.9 542.6h0.7M181.2 548.8h0.7M171.0 552.5h0.7M176.0 541.6h0.7M181.2 530.9h0.7M163.2 537.7h0.7M164.3 537.8h0.7M167.6 542.2h0.7M176.2 542.0h0.7M178.7 542.6h0.7M183.7 552.8h0.7M182.8 546.9h0.7M169.7 538.8h0.7M163.7 545.6h0.7M164.9 535.5h0.7M162.3 546.1h0.7M169.7 541.9h0.7M152.7 528.8h0.7M171.4 535.5h0.7M164.5 540.7h0.7M154.7 547.0h0.7M184.5 546.1h0.7M172.1 550.3h0.7M186.6 550.5h0.7M192.2 535.7h0.7M172.8 543.9h0.7M164.1 535.4h0.7M165.1 530.1h0.7M180.4 541.1h0.7M190.2 536.7h0.7M182.2 545.5h0.7M182.4 553.0h0.7M176.3 538.7h0.7M183.8 552.8h0.7M176.2 547.4h0.7M165.9 538.6h0.7M185.1 531.5h0.7M190.2 540.7h0.7M163.1 540.5h0.7" stroke="#1a0818" stroke-width="0.7" fill="none"/>
<path d="M160.8 531.9h0.7M189.1 533.0h0.7M164.3 537.2h0.7M164.7 529.6h0.7M149.8 530.4h0.7M163.3 532.6h0.7M173.7 534.3h0.7M177.9 537.9h0.7M161.2 531.4h0.7M172.2 534.7h0.7M166.0 532.2h0.7M182.7 533.4h0.7M162.5 530.3h0.7M175.0 531.1h0.7M150.4 527.6h0.7M162.6 528.1h0.7M155.8 533.3h0.7M162.8 532.6h0.7M185.0 530.3h0.7M162.1 530.9h0.7M162.1 528.5h0.7M156.2 532.2h0.7M166.1 528.5h0.7M159.3 534.2h0.7M161.3 534.3h0.7M165.1 531.7h0.7M163.5 526.5h0.7M163.8 528.6h0.7M153.0 532.3h0.7M161.5 527.6h0.7M175.0 532.6h0.7M172.1 533.6h0.7M175.6 533.0h0.7M157.4 527.4h0.7M153.9 531.1h0.7M149.7 533.2h0.7M157.6 536.0h0.7M171.6 532.8h0.7M176.0 534.2h0.7M175.1 526.2h0.7M138.9 528.6h0.7M147.6 531.7h0.7M173.0 535.9h0.7M169.4 531.3h0.7M175.1 537.1h0.7M163.3 529.1h0.7M176.1 531.8h0.7M169.7 533.4h0.7M182.9 535.2h0.7M176.1 529.4h0.7M148.0 533.7h0.7M155.5 533.5h0.7M149.6 533.4h0.7M176.9 538.3h0.7M144.0 527.6h0.7M172.3 534.4h0.7M156.4 528.8h0.7M176.2 532.7h0.7M140.1 531.3h0.7M148.7 533.0h0.7M156.5 534.5h0.7M158.8 530.2h0.7M163.2 534.2h0.7M151.4 529.0h0.7M153.3 531.9h0.7M162.6 527.3h0.7M148.9 529.3h0.7M179.4 531.4h0.7M153.9 530.6h0.7M164.4 538.2h0.7" stroke="#1a0818" stroke-width="0.7" fill="none"/>
<path d="M179.4 526.6h0.7M177.4 517.3h0.7M172.4 518.4h0.7M177.3 519.4h0.7M175.5 522.1h0.7M175.6 520.6h0.7M177.0 515.8h0.7M177.0 514.5h0.7M183.4 513.9h0.7M172.8 521.6h0.7M178.2 516.4h0.7M178.4 517.2h0.7M174.8 518.7h0.7M179.3 524.4h0.7M170.8 516.5h0.7M167.1 517.8h0.7M169.5 517.4h0.7M177.3 513.2h0.7M171.7 519.7h0.7M176.8 519.7h0.7M172.7 521.9h0.7M168.3 515.0h0.7M177.2 521.8h0.7M173.3 517.7h0.7M175.9 514.4h0.7" stroke="#1d0812" stroke-width="0.7" fill="none"/>
<path d="M140.7 523.0h0.7M159.7 518.9h0.7M173.2 523.8h0.7M152.5 505.2h0.7M171.6 524.1h0.7M144.0 510.3h0.7M148.3 520.0h0.7M176.2 509.2h0.7M153.2 522.8h0.7M157.4 509.3h0.7" stroke="#1d0812" stroke-width="0.7" fill="none"/>
<path d="M143.5 509.5h0.7M146.5 511.0h0.7M147.5 510.0h0.7M142.0 513.0h0.7M150.0 512.5h0.7" stroke="#1d0812" stroke-width="0.7" fill="none"/>
<rect x="136.4" y="499.2" width="21.3" height="16.6" fill="none" stroke="#a86a74" stroke-width="0.8"/>
<text x="136.60" y="498.00" font-size="8.82" fill="#9c3c56" stroke="#9c3c56" stroke-width="0.16" textLength="23.20" lengthAdjust="spacingAndGlyphs">0.02%</text>
<text x="178.80" y="499.40" font-size="8.82" fill="#9c3c56" stroke="#9c3c56" stroke-width="0.16" textLength="17.80" lengthAdjust="spacingAndGlyphs">0.1%</text>
<rect x="132.3" y="489.0" width="72.9" height="65.0" fill="none" stroke="#111" stroke-width="1.6"/>
<path d="M131.6 623.3v1.8M134.2 623.3v1.4M136.0 623.3v2.0M137.8 623.3v1.8M140.0 623.3v1.4M141.5 623.3v1.8M144.1 623.3v1.4M146.7 623.3v1.8M147.9 623.3v1.8M149.7 623.3v1.8M151.9 623.3v1.4M153.1 623.3v1.4M155.3 623.3v1.8M157.1 623.3v2.0M158.9 623.3v1.4M160.4 623.3v1.8M162.6 623.3v2.0M164.1 623.3v1.8M166.3 623.3v1.4M167.8 623.3v1.4M169.0 623.3v2.0M170.5 623.3v1.8M173.1 623.3v2.0M174.6 623.3v1.4M176.4 623.3v2.0M178.6 623.3v1.8M180.4 623.3v2.0M181.9 623.3v1.8M183.7 623.3v1.4M185.5 623.3v2.0M187.7 623.3v2.0M189.5 623.3v1.8M191.0 623.3v1.8M192.2 623.3v2.0M194.0 623.3v1.8M195.5 623.3v2.0M197.3 623.3v1.8M199.5 623.3v1.8M201.7 623.3v2.0M202.9 623.3v2.0M129.0 564.5h-1.0M129.0 571.0h-1.4M129.0 574.5h-1.0M129.0 581.0h-1.0M129.0 587.5h-1.0M129.0 591.0h-1.0M129.0 594.5h-1.4M129.0 601.0h-1.0M129.0 606.0h-1.0M129.0 611.0h-1.4M129.0 617.5h-1.0" stroke="#1a1a1a" stroke-width="0.8" opacity="0.85"/>
<rect x="129.6" y="561.5" width="74.4" height="60.9" fill="#fff"/>
<path d="M159.3,561.5 V622.4 M129.6,599.1 H204.0" stroke="#111" stroke-width="1.1"/>
<text x="181.40" y="618.20" font-size="9.03" fill="#9c3c56" stroke="#9c3c56" stroke-width="0.16" textLength="19.60" lengthAdjust="spacingAndGlyphs">19.6%</text>
<path d="M131.6,610 C131.6,604 135,602 142,602 C148,602 151,598 155.5,594 C157.5,597 160,601 167,601.5 C177,601.5 186,604 187.5,610 C188.5,616 184,619.3 176,619.3 L138,619.3 C133,619.3 131.6,616 131.6,610 Z" fill="#1a0818" filter="url(#bl1)"/>
<ellipse cx="181" cy="614" rx="5" ry="3.5" fill="#8a1a32" opacity="0.6" filter="url(#bl1)"/>
<path d="M159.9 605.0h0.7M155.9 619.2h0.7M133.1 604.5h0.7M136.1 600.8h0.7M150.3 600.7h0.7M150.7 617.3h0.7M130.7 608.4h0.7M139.0 608.7h0.7M146.5 612.7h0.7M142.7 610.1h0.7M140.8 610.6h0.7M134.9 610.3h0.7M164.2 610.4h0.7M134.0 611.3h0.7M136.8 601.7h0.7M139.0 613.7h0.7M149.6 609.5h0.7M137.2 604.6h0.7M158.8 611.2h0.7M137.0 599.4h0.7M135.1 609.6h0.7M148.0 609.2h0.7M143.4 603.1h0.7M136.0 618.4h0.7M138.8 614.2h0.7M148.5 615.2h0.7M135.3 613.0h0.7M149.7 606.3h0.7M150.5 605.5h0.7M138.4 609.9h0.7M136.5 602.7h0.7M142.0 613.8h0.7M142.2 616.3h0.7M135.0 603.4h0.7M160.7 612.0h0.7M155.0 605.9h0.7M153.6 611.3h0.7M152.2 610.1h0.7M157.5 606.8h0.7M136.8 602.6h0.7M157.0 606.3h0.7M136.1 605.3h0.7M141.8 603.6h0.7M143.2 606.9h0.7M140.8 605.2h0.7M146.3 607.7h0.7M147.1 611.2h0.7M149.2 599.1h0.7M140.9 606.0h0.7M153.4 602.1h0.7M139.2 608.5h0.7M142.8 615.0h0.7M141.8 614.8h0.7M132.1 600.9h0.7M157.6 612.2h0.7M150.6 610.6h0.7M150.6 603.9h0.7M155.0 607.3h0.7M155.4 610.4h0.7M156.7 609.3h0.7M142.2 611.2h0.7M142.0 607.3h0.7M147.0 610.7h0.7M160.4 610.2h0.7M163.9 619.0h0.7M162.3 615.3h0.7M147.2 610.7h0.7M144.6 606.3h0.7M145.4 606.8h0.7M161.6 612.7h0.7M141.8 600.4h0.7M145.5 607.9h0.7M135.7 604.3h0.7M145.7 609.3h0.7M159.7 610.7h0.7M147.6 608.1h0.7M140.2 617.5h0.7M155.5 618.6h0.7M142.7 610.2h0.7M137.6 614.8h0.7M132.8 612.8h0.7M156.4 617.1h0.7M137.1 615.4h0.7M139.2 606.2h0.7M133.4 615.8h0.7M161.7 607.0h0.7M138.8 608.3h0.7M169.8 615.0h0.7M140.8 601.0h0.7M139.6 615.9h0.7M163.7 608.7h0.7M139.4 607.5h0.7M135.7 615.3h0.7M148.7 606.2h0.7M153.4 610.0h0.7M134.8 613.1h0.7M154.0 600.4h0.7M163.3 612.5h0.7M153.2 600.7h0.7M139.2 608.3h0.7M156.2 602.7h0.7M137.6 599.9h0.7M143.7 611.7h0.7M150.8 617.9h0.7M152.3 608.5h0.7M134.8 605.3h0.7M139.7 610.7h0.7M145.5 618.3h0.7M148.7 604.6h0.7M160.7 614.7h0.7M147.0 606.4h0.7M154.7 606.0h0.7M133.5 611.0h0.7M148.3 613.0h0.7M152.2 617.0h0.7M138.0 614.9h0.7M136.6 613.5h0.7M147.7 611.2h0.7M155.2 609.9h0.7M156.6 614.4h0.7M147.3 607.2h0.7M138.8 607.4h0.7M144.1 609.9h0.7M174.3 613.2h0.7M153.3 605.7h0.7M139.3 608.4h0.7M147.8 604.8h0.7M161.3 607.2h0.7M156.2 598.3h0.7M145.9 611.4h0.7M147.8 613.0h0.7M148.7 610.8h0.7M148.9 609.0h0.7M138.2 607.1h0.7M163.5 618.7h0.7M145.4 616.4h0.7M130.9 600.3h0.7M141.4 605.6h0.7M140.7 610.9h0.7M174.7 606.7h0.7M146.5 611.4h0.7M145.7 614.7h0.7M162.9 603.8h0.7M147.5 608.7h0.7M149.4 602.3h0.7M151.0 611.0h0.7M146.7 598.2h0.7M142.5 606.2h0.7M132.6 605.4h0.7M152.6 612.7h0.7M145.8 612.6h0.7M140.3 610.4h0.7M146.4 612.8h0.7M145.3 609.3h0.7M144.7 606.8h0.7M167.2 612.6h0.7M150.1 621.5h0.7M159.3 602.2h0.7M152.6 614.2h0.7M163.9 616.6h0.7M153.3 604.1h0.7M137.7 611.3h0.7M150.8 604.9h0.7M142.3 608.0h0.7M146.6 611.7h0.7M143.3 603.8h0.7M157.8 618.0h0.7M145.0 615.1h0.7M150.2 613.3h0.7M150.6 606.2h0.7M151.5 615.1h0.7M137.5 619.8h0.7M165.9 619.1h0.7M164.9 613.7h0.7M142.8 607.0h0.7M138.3 610.6h0.7M145.7 613.4h0.7M167.6 609.9h0.7M152.4 612.4h0.7M148.6 609.0h0.7M144.8 605.9h0.7M147.7 609.9h0.7M149.0 605.7h0.7M146.4 610.2h0.7M151.7 604.7h0.7M150.0 614.9h0.7M151.7 608.2h0.7M141.3 608.8h0.7M152.9 617.8h0.7M144.5 606.8h0.7M149.6 611.0h0.7M137.4 606.3h0.7M145.0 613.4h0.7M134.7 604.9h0.7M150.7 603.9h0.7M147.0 611.8h0.7M144.9 604.9h0.7M145.4 608.3h0.7M149.2 605.8h0.7M156.4 601.6h0.7M144.3 610.0h0.7M155.1 607.0h0.7M151.2 607.2h0.7M153.0 618.7h0.7M142.2 612.2h0.7M137.2 614.9h0.7M157.5 610.2h0.7M135.2 612.0h0.7M156.9 615.4h0.7M153.7 600.8h0.7M139.5 617.1h0.7M134.4 615.7h0.7M163.9 613.8h0.7M156.6 608.3h0.7M134.4 609.5h0.7M144.1 609.8h0.7M152.6 609.3h0.7M147.8 612.1h0.7M145.9 619.2h0.7M150.2 610.4h0.7M144.0 606.9h0.7M158.8 610.8h0.7M135.8 607.2h0.7M144.7 607.8h0.7M156.3 604.2h0.7M150.7 610.7h0.7M134.8 610.2h0.7M145.1 612.5h0.7M141.7 611.5h0.7M153.5 615.2h0.7M145.9 607.0h0.7M156.3 599.5h0.7M138.4 613.4h0.7M152.2 604.8h0.7M147.5 605.5h0.7M146.5 614.5h0.7M153.0 599.6h0.7M153.3 601.1h0.7M156.8 612.0h0.7M167.4 606.9h0.7M146.0 615.2h0.7M139.9 606.5h0.7M142.5 609.6h0.7M135.7 612.4h0.7M151.2 610.4h0.7M162.2 608.4h0.7M158.4 607.3h0.7M153.2 600.3h0.7M147.9 609.1h0.7M141.3 606.9h0.7M142.7 606.4h0.7M140.8 607.4h0.7M136.0 609.3h0.7M153.5 608.7h0.7M141.3 616.8h0.7M155.3 614.6h0.7M157.0 608.4h0.7M144.8 615.6h0.7M140.7 609.4h0.7M149.6 611.9h0.7" stroke="#1a0818" stroke-width="0.7" fill="none"/>
<path d="M171.4 614.9h0.7M172.3 613.6h0.7M184.2 613.3h0.7M181.0 604.2h0.7M161.5 606.9h0.7M178.5 617.5h0.7M162.4 611.5h0.7M165.9 606.3h0.7M171.4 613.5h0.7M176.0 615.9h0.7M164.6 614.4h0.7M182.8 610.3h0.7M178.5 607.2h0.7M163.6 608.0h0.7M169.4 618.3h0.7M175.9 611.6h0.7M181.1 606.1h0.7M182.7 611.9h0.7M159.6 613.0h0.7M179.2 612.3h0.7M189.1 607.9h0.7M178.9 613.7h0.7M165.4 616.0h0.7M160.2 603.5h0.7M179.0 604.6h0.7M172.9 601.8h0.7M174.7 604.3h0.7M177.2 602.3h0.7M178.3 608.7h0.7M174.6 609.7h0.7M175.2 603.4h0.7M149.6 610.2h0.7M165.1 607.7h0.7M178.1 600.1h0.7M166.7 606.9h0.7M164.0 611.6h0.7M172.7 605.9h0.7M164.6 614.0h0.7M167.7 612.9h0.7M178.3 600.5h0.7M163.7 610.0h0.7M177.2 613.9h0.7M181.6 615.2h0.7M170.4 608.9h0.7M181.4 607.9h0.7M184.0 602.1h0.7M180.2 609.1h0.7M155.3 614.9h0.7M177.0 610.1h0.7M163.8 607.7h0.7M188.4 605.9h0.7M141.0 605.7h0.7M162.6 609.3h0.7M170.3 605.4h0.7M166.0 615.2h0.7M160.3 619.8h0.7M168.8 604.5h0.7M181.5 612.8h0.7M164.1 613.7h0.7M156.5 605.4h0.7M184.7 608.7h0.7M161.6 612.6h0.7M182.7 609.9h0.7M156.8 608.3h0.7M178.0 613.8h0.7M191.6 608.7h0.7M169.4 609.8h0.7M185.5 605.3h0.7M186.4 596.3h0.7M181.6 606.6h0.7M178.4 613.4h0.7M162.8 609.6h0.7M176.3 612.9h0.7M165.2 605.0h0.7M172.2 608.9h0.7M159.8 614.6h0.7M168.9 617.2h0.7M182.1 610.1h0.7M180.9 604.4h0.7M170.9 607.1h0.7M161.9 610.1h0.7M172.6 617.2h0.7M142.1 606.6h0.7M165.3 607.7h0.7M178.0 612.0h0.7M174.3 607.6h0.7M178.7 611.8h0.7M156.5 608.7h0.7M160.9 604.1h0.7M175.4 610.3h0.7M175.1 605.6h0.7M172.1 605.4h0.7M177.6 613.4h0.7M190.7 616.3h0.7M166.3 607.7h0.7M165.1 611.5h0.7M192.8 613.5h0.7M153.1 603.7h0.7M161.7 612.6h0.7M174.0 611.5h0.7M190.9 605.9h0.7M165.9 619.8h0.7M177.3 606.1h0.7M154.7 602.4h0.7M150.8 610.3h0.7M174.4 615.0h0.7M172.7 606.5h0.7M167.0 619.5h0.7M157.2 610.9h0.7M174.2 613.1h0.7M170.2 612.5h0.7M181.7 609.3h0.7M169.7 609.1h0.7M164.8 609.0h0.7M171.1 611.1h0.7M186.7 616.5h0.7M169.8 613.0h0.7M176.8 613.8h0.7M174.2 611.3h0.7M169.5 606.1h0.7M182.3 616.5h0.7M180.3 612.2h0.7M176.5 607.7h0.7M157.1 613.3h0.7M175.9 607.2h0.7M164.8 616.4h0.7M156.9 618.8h0.7M167.2 609.9h0.7M169.2 610.8h0.7M172.0 606.3h0.7M184.2 606.1h0.7M169.2 612.8h0.7M168.9 607.8h0.7M177.4 608.2h0.7M162.2 609.5h0.7M171.9 618.5h0.7M163.6 614.8h0.7M166.5 608.2h0.7M170.9 611.4h0.7M182.2 618.7h0.7M168.0 616.6h0.7M183.5 614.1h0.7M166.8 614.5h0.7M173.0 611.8h0.7M171.4 613.3h0.7M184.6 615.7h0.7M172.1 615.0h0.7M187.8 605.3h0.7M188.0 603.3h0.7M179.2 613.0h0.7M188.1 611.4h0.7M169.4 606.0h0.7M162.1 613.8h0.7M171.7 606.4h0.7M179.1 606.2h0.7M169.8 607.7h0.7M189.7 617.3h0.7M172.5 602.1h0.7M176.6 610.4h0.7M177.3 612.8h0.7M171.0 614.6h0.7M182.0 611.1h0.7M170.1 607.6h0.7M180.6 604.5h0.7M172.5 606.3h0.7M160.8 613.0h0.7M173.8 610.2h0.7M182.3 602.5h0.7M173.4 611.4h0.7M181.9 604.6h0.7M180.8 611.1h0.7M186.9 615.7h0.7M179.2 620.7h0.7M174.0 607.9h0.7M170.8 605.3h0.7M173.7 600.6h0.7M173.2 612.1h0.7M183.4 608.3h0.7M187.2 606.7h0.7M172.7 600.6h0.7M166.8 606.0h0.7M187.9 612.6h0.7M163.8 612.6h0.7M178.5 608.9h0.7M174.2 608.5h0.7M169.0 601.3h0.7M173.2 616.3h0.7M187.3 608.6h0.7M167.1 609.0h0.7M182.3 611.7h0.7M168.6 611.8h0.7M172.1 612.5h0.7M170.2 602.8h0.7M174.5 613.7h0.7M163.7 609.5h0.7M182.1 608.2h0.7M168.0 619.9h0.7M181.7 615.0h0.7M165.2 618.0h0.7M158.7 607.5h0.7M180.8 616.5h0.7M165.4 606.8h0.7M175.8 600.6h0.7M179.9 612.7h0.7M169.9 612.6h0.7M181.2 611.5h0.7M178.8 617.4h0.7M169.6 610.8h0.7M169.2 615.0h0.7M170.2 612.3h0.7M175.3 610.3h0.7M189.8 609.6h0.7M187.0 614.0h0.7M186.1 609.2h0.7M182.5 613.7h0.7M168.4 611.3h0.7M172.8 609.8h0.7M186.0 606.5h0.7M158.6 601.6h0.7M169.8 606.9h0.7M174.1 612.7h0.7M190.1 611.5h0.7M178.2 606.5h0.7M179.3 616.6h0.7M186.3 600.6h0.7M182.2 617.6h0.7M181.6 602.8h0.7M171.2 612.8h0.7M177.8 606.1h0.7M165.9 614.7h0.7M161.8 616.9h0.7M174.2 611.4h0.7M161.8 607.1h0.7M180.3 602.9h0.7M192.9 603.2h0.7M162.8 610.2h0.7M178.4 613.5h0.7M170.6 609.0h0.7M171.8 607.2h0.7M150.4 614.6h0.7M176.3 610.8h0.7M168.3 611.2h0.7M173.9 609.6h0.7M184.1 601.7h0.7M176.3 604.9h0.7M171.1 617.2h0.7M164.1 609.5h0.7M168.6 614.6h0.7M165.1 601.9h0.7M178.7 608.3h0.7M171.1 615.2h0.7M165.9 608.2h0.7M175.3 612.0h0.7M169.3 615.0h0.7M194.4 608.0h0.7M191.1 599.9h0.7M186.8 608.3h0.7M175.3 608.4h0.7M168.2 603.9h0.7M170.4 616.2h0.7" stroke="#1a0818" stroke-width="0.7" fill="none"/>
<path d="M168.9 599.1h0.7M152.9 598.2h0.7M146.5 604.5h0.7M164.4 600.3h0.7M153.3 597.4h0.7M170.6 601.9h0.7M148.9 602.5h0.7M147.4 601.6h0.7M148.8 599.0h0.7M162.8 601.1h0.7M167.7 597.9h0.7M173.2 603.4h0.7M157.9 601.2h0.7M150.5 599.6h0.7M145.3 600.2h0.7M159.9 603.4h0.7M167.1 602.0h0.7M154.5 599.4h0.7M154.7 600.6h0.7M139.5 601.9h0.7M143.0 598.7h0.7M158.2 598.7h0.7M174.0 599.8h0.7M173.1 602.9h0.7M153.2 601.0h0.7M170.5 599.2h0.7M158.8 598.6h0.7M158.6 599.1h0.7M158.8 602.5h0.7M171.4 600.3h0.7M159.9 602.1h0.7M155.2 597.4h0.7M168.7 597.7h0.7M166.9 597.6h0.7M175.6 597.4h0.7M166.2 603.7h0.7M148.8 603.7h0.7M150.1 595.6h0.7M164.9 601.8h0.7M156.1 593.7h0.7M157.5 599.2h0.7M154.4 599.3h0.7M140.8 598.6h0.7M175.3 603.9h0.7M154.5 598.2h0.7M161.8 602.7h0.7M164.9 597.1h0.7M159.6 600.4h0.7M171.8 603.0h0.7M163.0 603.0h0.7M154.2 603.8h0.7M153.9 601.0h0.7M166.8 597.7h0.7M151.3 595.6h0.7M159.6 599.9h0.7M154.9 601.2h0.7M137.7 599.9h0.7M158.8 599.3h0.7M165.6 604.4h0.7M153.7 597.7h0.7" stroke="#1a0818" stroke-width="0.7" fill="none"/>
<path d="M154.7 590.4h0.7M157.2 586.3h0.7M158.1 585.6h0.7M157.7 591.8h0.7M157.0 599.3h0.7M155.4 589.3h0.7M157.0 593.7h0.7M153.2 591.2h0.7M154.4 592.7h0.7M158.9 590.2h0.7M155.8 590.8h0.7M149.8 593.3h0.7M157.2 590.7h0.7M155.2 586.8h0.7M155.6 595.2h0.7M155.8 595.8h0.7M150.6 588.0h0.7M156.6 589.9h0.7M152.5 587.1h0.7M158.6 584.4h0.7M153.9 585.3h0.7M154.8 592.8h0.7M157.3 581.2h0.7M159.1 587.4h0.7M154.8 597.2h0.7M155.8 584.6h0.7M154.7 586.9h0.7M153.9 588.6h0.7M157.9 591.5h0.7M153.1 602.0h0.7M153.9 590.5h0.7M156.1 593.3h0.7M155.3 592.0h0.7M160.4 590.4h0.7M153.7 591.4h0.7" stroke="#1d0812" stroke-width="0.7" fill="none"/>
<path d="M139.6 578.5h0.7M143.2 580.4h0.7M141.5 581.8h0.7M141.8 576.0h0.7M145.7 578.5h0.7M146.9 577.7h0.7M144.6 580.3h0.7M132.7 575.5h0.7M138.4 583.3h0.7M135.6 582.0h0.7M146.5 580.8h0.7M145.0 578.2h0.7M142.5 580.1h0.7M144.0 581.4h0.7M141.7 577.6h0.7M140.4 580.6h0.7M136.4 576.1h0.7M141.0 578.0h0.7M141.5 572.3h0.7M141.3 578.8h0.7M145.3 574.2h0.7M141.4 580.8h0.7M144.3 582.7h0.7M146.4 576.7h0.7M144.8 578.6h0.7M139.6 583.6h0.7M140.2 577.2h0.7M141.0 577.2h0.7M146.2 580.5h0.7M147.6 580.6h0.7M140.3 582.3h0.7M140.1 578.3h0.7M141.9 579.6h0.7M146.9 577.9h0.7M143.8 579.4h0.7M137.9 576.6h0.7M141.7 580.6h0.7M143.7 580.8h0.7M142.7 578.3h0.7M144.1 576.8h0.7M137.6 578.6h0.7M137.3 578.1h0.7M139.8 578.0h0.7M142.3 577.3h0.7M141.0 574.9h0.7M143.0 577.1h0.7M144.0 571.9h0.7M139.6 580.2h0.7M133.6 578.5h0.7M142.8 579.8h0.7M137.0 580.1h0.7M143.0 576.9h0.7M145.2 579.4h0.7M142.6 578.3h0.7M144.5 579.8h0.7M146.7 580.7h0.7M140.2 578.9h0.7M145.9 578.5h0.7M143.9 580.9h0.7M141.8 573.2h0.7M143.0 580.1h0.7M143.0 577.4h0.7M146.9 579.1h0.7M140.2 577.6h0.7M143.8 576.5h0.7M138.8 584.9h0.7M147.3 582.4h0.7M147.5 581.1h0.7M136.3 582.7h0.7M147.1 580.8h0.7" stroke="#1d0812" stroke-width="0.7" fill="none"/>
<path d="M138.5 589.6h0.7M154.6 584.6h0.7M148.6 588.3h0.7M147.6 589.2h0.7M148.4 588.0h0.7M148.4 581.7h0.7M143.2 595.2h0.7M149.4 589.8h0.7M153.5 591.0h0.7M150.7 584.3h0.7M148.1 580.4h0.7M147.1 588.6h0.7M137.5 586.6h0.7M152.0 589.9h0.7M143.5 584.1h0.7M138.9 583.0h0.7M150.6 592.0h0.7M142.4 590.0h0.7M150.1 584.6h0.7M158.6 578.7h0.7" stroke="#1d0812" stroke-width="0.7" fill="none"/>
<path d="M166.9 575.6h0.7M159.5 597.4h0.7M155.4 596.0h0.7M161.0 591.9h0.7M158.9 578.9h0.7M182.3 577.1h0.7M168.6 596.1h0.7M183.7 595.3h0.7M194.2 575.8h0.7M164.4 593.2h0.7M182.6 575.9h0.7M175.2 580.3h0.7M172.2 577.4h0.7M155.8 597.8h0.7M167.7 595.2h0.7M159.8 586.2h0.7M160.4 584.9h0.7M162.2 590.8h0.7M160.9 592.0h0.7M175.0 577.6h0.7M169.1 586.4h0.7M191.7 583.0h0.7" stroke="#1d0812" stroke-width="0.7" fill="none"/>
<path d="M145.2 620.9h0.7M184.3 620.9h0.7M179.9 621.0h0.7M172.0 620.1h0.7M148.2 620.8h0.7M143.2 620.4h0.7M147.8 620.7h0.7M137.6 620.6h0.7M136.2 620.4h0.7M160.5 621.1h0.7M155.2 620.1h0.7M162.9 620.8h0.7M152.9 621.0h0.7M134.6 620.6h0.7M169.8 620.7h0.7M168.0 621.1h0.7M162.3 620.3h0.7M162.5 620.7h0.7M169.9 620.8h0.7M185.1 620.5h0.7M179.5 620.8h0.7M171.3 620.5h0.7M154.8 620.6h0.7M150.5 620.7h0.7M155.8 620.8h0.7M184.6 620.4h0.7M154.1 620.7h0.7M154.0 620.6h0.7M155.3 620.3h0.7M141.4 620.7h0.7M185.9 620.4h0.7M134.3 621.0h0.7M165.6 620.6h0.7M182.2 620.8h0.7M147.2 620.6h0.7M165.8 620.6h0.7M153.6 620.3h0.7M146.5 620.2h0.7M144.3 621.0h0.7M140.0 620.6h0.7" stroke="#1a0818" stroke-width="0.7" fill="none"/>
<text x="131.70" y="616.80" font-size="9.2" fill="#7a1430" stroke="#7a1430" stroke-width="0.16" font-weight="bold" textLength="27.20" lengthAdjust="spacingAndGlyphs" opacity="0.92">40.0%</text>
<rect x="132.8" y="573.3" width="21.6" height="18" fill="none" stroke="#a07078" stroke-width="0.75"/>
<text x="136.00" y="571.30" font-size="8.82" fill="#9c3c56" stroke="#9c3c56" stroke-width="0.16" textLength="17.60" lengthAdjust="spacingAndGlyphs">0.3%</text>
<text x="174.00" y="571.30" font-size="8.82" fill="#9c3c56" stroke="#9c3c56" stroke-width="0.16" textLength="18.00" lengthAdjust="spacingAndGlyphs">0.1%</text>
<rect x="129.6" y="561.5" width="74.4" height="60.9" fill="none" stroke="#111" stroke-width="1.6"/>
<line x1="154.40" y1="582.00" x2="220.50" y2="582.00" stroke="#a04858" stroke-width="0.8"/>
<polygon points="219.3,579.8 223.5,582 219.3,584.2" fill="#a04858"/>
<text x="73.60" y="528.50" font-size="9.24" text-anchor="middle" stroke="#1c1c1c" stroke-width="0.16" textLength="62.60" lengthAdjust="spacingAndGlyphs">CS1 CAR alone</text>
<text x="77.90" y="588.50" font-size="9.24" text-anchor="middle" stroke="#1c1c1c" stroke-width="0.16" textLength="38.60" lengthAdjust="spacingAndGlyphs">CS1 CAR</text>
<text x="78.90" y="598.20" font-size="9.24" text-anchor="middle" stroke="#1c1c1c" stroke-width="0.16" textLength="57.20" lengthAdjust="spacingAndGlyphs">+ lenalidomide</text>
<text x="0.00" y="0.00" font-size="9.87" text-anchor="middle" stroke="#1c1c1c" stroke-width="0.16" textLength="87.40" lengthAdjust="spacingAndGlyphs" transform="translate(125.0,548.4) rotate(-90)">CD45 PerCP-Vio700</text>
<text x="162.10" y="635.40" font-size="9.24" text-anchor="middle" stroke="#1c1c1c" stroke-width="0.16" textLength="18.40" lengthAdjust="spacingAndGlyphs">GFP</text>
<path d="M236.3 625.1v2.0M237.8 625.1v2.0M239.3 625.1v1.8M240.8 625.1v2.0M242.3 625.1v1.4M244.5 625.1v1.4M245.7 625.1v1.8M247.9 625.1v1.8M250.1 625.1v1.4M252.3 625.1v1.4M254.1 625.1v1.8M255.3 625.1v1.8M257.1 625.1v2.0M259.7 625.1v2.0M261.5 625.1v1.8M262.7 625.1v1.8M264.9 625.1v1.8M267.1 625.1v2.0M268.3 625.1v1.8M270.5 625.1v2.0M272.0 625.1v2.0M273.5 625.1v1.4M275.0 625.1v1.8M277.2 625.1v2.0M278.7 625.1v2.0M280.5 625.1v2.0M282.3 625.1v1.8M284.1 625.1v1.4M286.7 625.1v1.4M287.9 625.1v2.0M289.7 625.1v1.4M292.3 625.1v1.4M294.1 625.1v2.0M296.7 625.1v1.8M298.5 625.1v1.8M300.0 625.1v1.8M302.2 625.1v1.4M304.8 625.1v2.0M233.7 564.8h-1.0M233.7 569.8h-1.0M233.7 577.8h-1.4M233.7 584.3h-1.0M233.7 592.3h-1.4M233.7 598.8h-1.0M233.7 605.3h-1.4M233.7 613.3h-1.4M233.7 619.8h-1.0" stroke="#1a1a1a" stroke-width="0.8" opacity="0.85"/>
<rect x="234.3" y="561.8" width="72.0" height="62.4" fill="#fff"/>
<text x="239.70" y="571.80" font-size="8.82" fill="#9c3c56" stroke="#9c3c56" stroke-width="0.16" textLength="18.80" lengthAdjust="spacingAndGlyphs">4.2%</text>
<text x="276.00" y="571.80" font-size="8.82" fill="#9c3c56" stroke="#9c3c56" stroke-width="0.16" textLength="23.00" lengthAdjust="spacingAndGlyphs">46.5%</text>
<text x="239.20" y="618.60" font-size="8.82" fill="#9c3c56" stroke="#9c3c56" stroke-width="0.16" textLength="23.00" lengthAdjust="spacingAndGlyphs">27.4%</text>
<text x="277.30" y="618.60" font-size="8.82" fill="#9c3c56" stroke="#9c3c56" stroke-width="0.16" textLength="22.30" lengthAdjust="spacingAndGlyphs">22.0%</text>
<path d="M277.9 590.3h0.75M273.7 578.7h0.75M280.9 587.0h0.75M277.4 594.8h0.75M277.5 590.9h0.75M272.2 593.5h0.75M266.9 597.5h0.75M275.6 582.8h0.75M277.4 598.6h0.75M281.9 590.4h0.75M263.6 596.8h0.75M275.8 594.7h0.75M273.9 594.0h0.75M276.3 591.7h0.75M274.8 596.6h0.75M270.3 586.3h0.75M273.3 597.5h0.75M271.7 595.9h0.75M278.9 600.8h0.75M275.7 591.8h0.75M269.7 590.5h0.75M274.4 599.3h0.75M278.3 589.2h0.75M268.9 601.8h0.75M272.1 587.5h0.75M278.0 590.1h0.75M274.8 593.3h0.75M275.4 588.0h0.75M273.4 609.8h0.75M275.0 600.1h0.75M274.8 591.7h0.75M270.3 597.2h0.75M272.9 598.0h0.75M281.9 587.8h0.75M273.6 596.5h0.75M271.9 596.1h0.75M273.8 590.3h0.75M276.4 596.1h0.75M276.0 579.4h0.75M276.1 583.5h0.75M276.7 605.1h0.75M272.0 597.5h0.75M277.9 583.4h0.75M276.2 591.7h0.75M280.9 601.3h0.75M276.9 591.2h0.75M274.3 599.2h0.75M275.2 596.7h0.75M280.8 592.7h0.75M269.7 596.4h0.75M275.2 596.7h0.75M274.7 604.4h0.75M276.4 595.3h0.75M283.1 586.4h0.75M275.5 592.3h0.75M278.6 582.3h0.75M275.8 596.6h0.75M278.7 582.2h0.75M279.9 585.8h0.75M275.7 602.5h0.75M277.8 585.0h0.75M273.6 592.6h0.75M276.5 593.9h0.75M272.8 604.3h0.75M277.4 585.8h0.75M268.2 596.0h0.75M278.1 591.5h0.75M275.8 598.8h0.75M280.9 580.2h0.75M280.8 583.9h0.75M277.4 587.1h0.75M273.0 600.1h0.75M272.5 607.5h0.75M276.2 588.3h0.75M279.1 592.6h0.75M275.9 597.2h0.75M276.1 583.7h0.75M275.4 596.0h0.75M275.3 598.0h0.75M274.9 593.2h0.75M270.6 598.7h0.75M274.0 601.6h0.75M274.9 591.7h0.75M275.4 592.4h0.75M281.9 580.4h0.75M278.6 591.0h0.75M273.6 597.4h0.75M273.2 585.6h0.75M274.7 599.5h0.75M280.4 582.4h0.75M281.1 589.2h0.75M271.9 599.7h0.75M276.1 592.7h0.75M275.4 596.0h0.75M274.1 595.8h0.75M271.8 597.4h0.75M272.7 597.1h0.75M278.0 601.5h0.75M281.2 584.0h0.75M269.9 593.5h0.75M276.6 595.4h0.75M274.9 593.3h0.75M279.4 596.0h0.75M270.0 595.9h0.75M268.6 596.5h0.75M278.9 598.7h0.75M277.8 586.7h0.75M276.1 590.0h0.75M280.5 594.4h0.75M279.0 588.6h0.75M274.8 595.4h0.75M274.8 596.1h0.75M272.7 599.9h0.75M273.4 596.2h0.75M275.4 591.4h0.75M270.3 607.3h0.75M272.4 599.8h0.75M283.3 594.0h0.75M278.1 584.8h0.75M275.1 595.3h0.75" stroke="#1d0812" stroke-width="0.75" fill="none"/>
<path d="M277.8 592.3h0.8M279.7 587.1h0.8M276.8 596.6h0.8M278.2 592.8h0.8M284.0 583.5h0.8M274.5 592.7h0.8M278.6 594.6h0.8M278.6 595.2h0.8M277.1 593.8h0.8M279.0 588.0h0.8M280.6 586.8h0.8M278.7 593.2h0.8M278.2 593.1h0.8M278.2 589.7h0.8M276.9 592.6h0.8M278.9 587.5h0.8M277.4 594.1h0.8M281.2 590.2h0.8M280.5 593.6h0.8M278.0 594.9h0.8M277.7 596.8h0.8M278.3 589.5h0.8M280.7 590.2h0.8M277.7 590.3h0.8M281.4 592.8h0.8M279.5 593.1h0.8M276.8 592.4h0.8M277.2 590.7h0.8M278.1 590.9h0.8M275.5 593.4h0.8M276.6 584.0h0.8M275.4 587.8h0.8M274.1 590.7h0.8M276.0 591.1h0.8M277.7 588.9h0.8M279.2 593.2h0.8M279.6 587.2h0.8M277.7 594.4h0.8M276.3 585.1h0.8M274.5 590.1h0.8M275.9 588.3h0.8M277.3 590.5h0.8M279.9 586.3h0.8M279.4 585.6h0.8M276.4 595.6h0.8M274.6 588.0h0.8M274.5 587.0h0.8M278.2 591.0h0.8M277.3 588.6h0.8M276.4 587.0h0.8M275.7 593.7h0.8M279.0 591.2h0.8M277.4 586.2h0.8M277.1 585.2h0.8M275.7 592.2h0.8M275.5 595.2h0.8M281.8 590.8h0.8M275.4 591.4h0.8M276.7 593.0h0.8M276.8 590.9h0.8M275.2 593.1h0.8M279.0 592.6h0.8M278.8 591.8h0.8M279.6 590.0h0.8M276.3 590.5h0.8M276.8 595.9h0.8M273.2 595.2h0.8M275.6 592.8h0.8M277.7 593.2h0.8M274.0 595.4h0.8" stroke="#1d0812" stroke-width="0.8" fill="none"/>
<path d="M281.4 597.3h0.7M266.0 608.2h0.7M278.0 599.0h0.7M271.0 594.3h0.7M273.2 604.5h0.7M274.4 608.0h0.7M269.7 607.6h0.7M269.0 598.4h0.7M275.6 595.1h0.7M274.6 605.8h0.7M275.9 595.5h0.7M267.8 613.1h0.7M265.8 610.0h0.7M268.1 602.0h0.7M266.5 608.7h0.7M262.8 611.6h0.7M276.3 589.9h0.7M271.6 602.3h0.7M272.2 597.3h0.7M270.5 602.9h0.7M279.5 598.0h0.7M269.1 609.0h0.7M264.5 609.7h0.7M267.5 611.8h0.7M261.7 603.6h0.7M269.7 603.9h0.7M273.0 603.5h0.7M263.9 617.4h0.7M262.1 597.1h0.7M266.8 611.9h0.7M274.1 605.5h0.7M263.4 614.1h0.7M272.3 607.3h0.7M268.2 604.7h0.7M275.1 603.8h0.7M262.8 600.1h0.7M260.0 611.3h0.7M261.2 612.3h0.7M269.2 603.5h0.7M266.6 598.0h0.7M264.5 614.9h0.7M270.7 607.2h0.7M267.1 600.3h0.7M275.6 601.7h0.7M275.4 605.1h0.7M262.9 609.2h0.7M261.0 615.6h0.7M265.7 602.9h0.7M274.0 603.0h0.7M272.4 598.4h0.7" stroke="#1d0812" stroke-width="0.7" fill="none"/>
<path d="M244.7 614.0h0.75M246.6 606.4h0.75M258.7 602.9h0.75M242.8 606.0h0.75M257.9 614.9h0.75M255.4 607.1h0.75M240.0 604.4h0.75M254.2 601.8h0.75M256.2 608.3h0.75M255.5 609.8h0.75M258.6 606.5h0.75M248.1 602.0h0.75M244.7 603.2h0.75M252.2 604.4h0.75M253.8 604.7h0.75M255.0 613.2h0.75M249.8 603.5h0.75M238.9 611.5h0.75M243.3 609.5h0.75M242.7 614.6h0.75M249.1 603.3h0.75M255.2 604.2h0.75M252.4 613.4h0.75M252.3 605.2h0.75M259.1 606.1h0.75M250.7 611.3h0.75M252.5 613.9h0.75M252.2 603.9h0.75M252.4 615.6h0.75M250.3 608.6h0.75M249.6 607.3h0.75M245.8 608.8h0.75M238.9 613.1h0.75M243.4 602.3h0.75M247.6 610.4h0.75M236.7 601.6h0.75M251.3 606.5h0.75M246.5 605.7h0.75M254.7 605.0h0.75M238.5 608.2h0.75M242.2 607.9h0.75M259.3 605.0h0.75M248.5 605.3h0.75M242.4 604.7h0.75M244.2 606.4h0.75M245.0 605.3h0.75M237.8 602.8h0.75M246.3 619.2h0.75M240.2 602.3h0.75M250.7 609.0h0.75M252.1 602.3h0.75M237.7 614.8h0.75M249.5 608.1h0.75M255.3 609.2h0.75M256.9 604.6h0.75M256.3 607.6h0.75M239.9 604.6h0.75M249.9 613.2h0.75M243.4 603.6h0.75M246.6 603.8h0.75M247.5 604.4h0.75M256.0 613.3h0.75M250.7 602.7h0.75M246.5 614.4h0.75M261.4 607.2h0.75M249.1 605.4h0.75M245.6 610.1h0.75M240.8 603.5h0.75M244.4 604.3h0.75M248.0 607.9h0.75M248.5 606.6h0.75M242.4 614.2h0.75M240.5 613.8h0.75M247.1 606.2h0.75M246.8 609.7h0.75M249.9 611.0h0.75M243.8 611.8h0.75M254.2 604.7h0.75M247.7 615.0h0.75M238.0 605.0h0.75M249.4 603.1h0.75M256.0 602.8h0.75M252.2 607.9h0.75M252.9 605.6h0.75M250.9 602.7h0.75M236.1 601.1h0.75M254.0 602.5h0.75M242.7 604.0h0.75M254.7 606.2h0.75M241.2 614.2h0.75M257.1 604.2h0.75M255.0 612.3h0.75M257.0 601.3h0.75M256.0 610.0h0.75M242.0 611.2h0.75M259.0 606.2h0.75M249.9 602.4h0.75M250.7 616.9h0.75M250.1 606.2h0.75M243.1 607.1h0.75M250.3 604.5h0.75M241.4 603.7h0.75M248.3 606.7h0.75M242.2 607.1h0.75M261.4 603.7h0.75M252.3 604.5h0.75M255.3 610.8h0.75M245.4 603.1h0.75M239.4 613.0h0.75M251.5 606.5h0.75" stroke="#1d0812" stroke-width="0.75" fill="none"/>
<path d="M252.7 577.1h0.7M250.4 589.7h0.7M256.5 587.9h0.7M254.2 590.9h0.7M251.8 586.0h0.7M253.3 588.4h0.7M241.0 579.5h0.7M248.9 595.1h0.7M241.0 592.0h0.7M255.0 591.1h0.7M261.6 589.7h0.7M237.8 587.5h0.7M253.5 577.1h0.7M241.8 596.2h0.7M261.6 577.2h0.7M242.8 582.4h0.7M243.3 586.9h0.7M250.8 583.0h0.7M240.6 576.9h0.7M236.7 591.4h0.7M255.8 580.1h0.7M245.7 598.6h0.7M260.0 588.8h0.7M241.1 593.2h0.7M255.4 576.9h0.7" stroke="#1d0812" stroke-width="0.7" fill="none"/>
<path d="M263.9 578.8h0.7M293.6 607.5h0.7M268.7 618.8h0.7M296.6 578.6h0.7M289.0 589.8h0.7M273.7 582.3h0.7M296.1 615.8h0.7M264.2 594.0h0.7M269.8 583.7h0.7M302.8 606.8h0.7M282.9 605.3h0.7M294.6 611.3h0.7M276.7 613.8h0.7M263.6 601.3h0.7M277.3 601.6h0.7M278.0 614.4h0.7M263.1 612.2h0.7M273.0 592.1h0.7M266.3 583.6h0.7M264.5 616.0h0.7M280.9 591.8h0.7M265.7 581.7h0.7M282.2 585.9h0.7M265.2 607.2h0.7M273.3 619.1h0.7" stroke="#1d0812" stroke-width="0.7" fill="none"/>
<path d="M260.2 611.9h0.7M256.1 614.5h0.7M252.7 605.0h0.7M255.5 620.4h0.7M254.4 609.9h0.7M238.6 621.8h0.7M251.7 614.1h0.7M239.9 621.8h0.7M243.0 609.0h0.7M244.6 622.1h0.7M237.9 619.9h0.7M252.5 614.2h0.7M252.9 617.0h0.7M239.3 601.6h0.7M237.3 609.0h0.7M237.6 616.8h0.7M249.7 601.7h0.7M237.5 612.8h0.7M254.6 614.9h0.7M249.0 620.2h0.7M259.9 610.4h0.7M259.3 605.9h0.7M246.0 616.0h0.7M240.1 622.8h0.7M258.8 619.8h0.7" stroke="#1d0812" stroke-width="0.7" fill="none"/>
<path d="M262.7,561.8 V624.2 M234.3,600.0 H306.3" stroke="#111" stroke-width="1.1"/>
<rect x="234.3" y="561.8" width="72.0" height="62.4" fill="none" stroke="#111" stroke-width="1.6"/>
<text x="272.30" y="555.40" font-size="8.93" text-anchor="middle" stroke="#1c1c1c" stroke-width="0.16" textLength="68.40" lengthAdjust="spacingAndGlyphs">Harvested T cells</text>
<text x="0.00" y="0.00" font-size="9.66" text-anchor="middle" stroke="#1c1c1c" stroke-width="0.16" textLength="48.30" lengthAdjust="spacingAndGlyphs" transform="translate(231.3,593.9) rotate(-90)">EGFR APC</text>
<text x="268.70" y="635.80" font-size="9.24" text-anchor="middle" stroke="#1c1c1c" stroke-width="0.16" textLength="68.00" lengthAdjust="spacingAndGlyphs">CD8 APC-Vio770</text>
<path d="M334.2 626.2v1.8M336.0 626.2v1.8M337.5 626.2v1.4M339.7 626.2v1.4M340.9 626.2v1.4M342.7 626.2v2.0M344.5 626.2v1.8M347.1 626.2v1.4M348.6 626.2v1.4M349.8 626.2v1.4M352.4 626.2v1.8M354.2 626.2v1.4M355.4 626.2v1.4M357.6 626.2v1.4M358.8 626.2v1.8M360.6 626.2v2.0M361.8 626.2v2.0M364.4 626.2v1.4M365.6 626.2v1.4M367.4 626.2v1.4M369.2 626.2v1.4M371.0 626.2v1.8M373.6 626.2v2.0M375.1 626.2v1.4M376.9 626.2v2.0M378.7 626.2v1.8M380.5 626.2v1.4M383.1 626.2v2.0M384.3 626.2v1.4M385.8 626.2v1.8M388.0 626.2v1.4M389.5 626.2v2.0M391.0 626.2v1.4M393.2 626.2v1.8M394.7 626.2v2.0M396.9 626.2v1.8M398.1 626.2v1.4M399.3 626.2v2.0M401.5 626.2v1.8M403.0 626.2v1.8M404.2 626.2v1.8M406.4 626.2v1.8M407.6 626.2v1.4M331.6 563.0h-1.4M331.6 566.5h-1.4M331.6 570.0h-1.4M331.6 578.0h-1.0M331.6 583.0h-1.4M331.6 591.0h-1.0M331.6 594.5h-1.0M331.6 598.0h-1.4M331.6 604.5h-1.4M331.6 612.5h-1.0M331.6 619.0h-1.0M331.6 622.5h-1.0" stroke="#1a1a1a" stroke-width="0.8" opacity="0.85"/>
<rect x="332.2" y="560.0" width="76.7" height="65.3" fill="#fff"/>
<text x="339.80" y="570.60" font-size="8.82" fill="#9c3c56" stroke="#9c3c56" stroke-width="0.16" textLength="22.60" lengthAdjust="spacingAndGlyphs">42.4%</text>
<text x="383.60" y="570.60" font-size="8.82" fill="#9c3c56" stroke="#9c3c56" stroke-width="0.16" textLength="18.20" lengthAdjust="spacingAndGlyphs">5.1%</text>
<text x="337.20" y="619.60" font-size="8.82" fill="#9c3c56" stroke="#9c3c56" stroke-width="0.16" textLength="23.00" lengthAdjust="spacingAndGlyphs">49.8%</text>
<text x="383.60" y="619.60" font-size="8.82" fill="#9c3c56" stroke="#9c3c56" stroke-width="0.16" textLength="18.20" lengthAdjust="spacingAndGlyphs">3.1%</text>
<rect x="335" y="574" width="31" height="49" rx="4" fill="#2a1428" opacity="0.3" filter="url(#bl)"/>
<rect x="348" y="576" width="17" height="46" rx="3" fill="#1e0c1e" opacity="0.55" filter="url(#bl)"/>
<rect x="389" y="577" width="8" height="44" rx="2" fill="#1e0c1e" opacity="0.3" filter="url(#bl1)"/>
<path d="M352.5 621.4h0.6M338.2 599.4h0.6M362.6 577.2h0.6M336.7 589.0h0.6M354.7 622.5h0.6M352.1 573.5h0.6M350.8 596.7h0.6M352.2 598.1h0.6M354.7 613.4h0.6M359.0 591.5h0.6M340.5 603.1h0.6M336.6 574.8h0.6M358.9 602.3h0.6M347.2 573.6h0.6M341.9 598.7h0.6M349.9 604.2h0.6M360.3 583.2h0.6M349.6 621.3h0.6M352.4 574.2h0.6M359.9 614.6h0.6M353.6 601.3h0.6M339.2 579.1h0.6M339.1 599.3h0.6M362.5 584.8h0.6M354.9 595.8h0.6M362.9 621.1h0.6M352.5 593.5h0.6M358.6 587.6h0.6M356.4 616.8h0.6M347.3 605.9h0.6M337.9 606.1h0.6M360.3 621.4h0.6M354.7 618.1h0.6M340.7 585.9h0.6M352.4 576.7h0.6M354.9 606.8h0.6M354.7 621.2h0.6M341.9 621.2h0.6M361.4 621.4h0.6M342.0 591.1h0.6M358.6 584.2h0.6M357.3 593.4h0.6M358.6 602.3h0.6M353.5 608.4h0.6M359.9 607.0h0.6M362.6 621.4h0.6M361.5 604.9h0.6M365.1 611.5h0.6M356.3 615.7h0.6M353.4 573.8h0.6M357.4 576.5h0.6M366.4 608.0h0.6M357.6 622.7h0.6M361.2 620.0h0.6M339.2 599.3h0.6M350.9 575.8h0.6M359.9 577.6h0.6M357.4 612.8h0.6M345.8 582.5h0.6M352.1 580.7h0.6M347.2 584.5h0.6M359.9 602.5h0.6M355.0 584.6h0.6M347.2 601.4h0.6M359.9 604.9h0.6M363.9 594.3h0.6M357.3 609.4h0.6M355.0 603.9h0.6M340.5 606.3h0.6M363.8 584.4h0.6M361.5 621.2h0.6M344.4 609.3h0.6M354.7 598.8h0.6M355.1 617.1h0.6M357.5 599.2h0.6M360.2 599.6h0.6M337.8 592.5h0.6M357.4 589.0h0.6M365.4 611.7h0.6M344.7 604.1h0.6M361.4 605.0h0.6M360.2 588.1h0.6M357.5 577.3h0.6M346.9 621.5h0.6M354.7 578.4h0.6M366.4 599.8h0.6M339.1 611.5h0.6M354.8 621.9h0.6M358.7 610.3h0.6M364.0 621.1h0.6M343.2 609.0h0.6M337.8 621.2h0.6M358.7 585.8h0.6M352.5 580.5h0.6M344.3 610.5h0.6M359.0 616.4h0.6M334.2 603.5h0.6M365.2 615.7h0.6M343.1 591.8h0.6M362.6 578.5h0.6M361.5 617.6h0.6M342.1 613.5h0.6M357.6 613.9h0.6M353.7 592.1h0.6M338.0 589.9h0.6M346.0 615.6h0.6M339.5 610.4h0.6M354.7 616.8h0.6M349.6 612.4h0.6M362.6 590.1h0.6M361.2 613.1h0.6M359.9 576.4h0.6M340.6 593.2h0.6M365.2 604.8h0.6M349.9 609.9h0.6M361.2 602.6h0.6M351.0 593.9h0.6M356.1 591.2h0.6M352.5 608.0h0.6M358.8 594.7h0.6M348.2 599.3h0.6M360.0 584.2h0.6M360.0 617.4h0.6M348.3 608.7h0.6M340.5 589.6h0.6M340.6 598.2h0.6M339.5 623.3h0.6M359.9 618.8h0.6M359.0 591.2h0.6M340.4 598.3h0.6M364.2 598.7h0.6M352.1 604.7h0.6M348.5 586.0h0.6M356.2 598.8h0.6M357.4 609.1h0.6M341.8 599.0h0.6M357.6 618.5h0.6M349.8 608.8h0.6M343.4 619.5h0.6M352.5 595.3h0.6M365.4 580.1h0.6M361.5 623.2h0.6M357.3 581.1h0.6M352.4 588.3h0.6M357.3 588.9h0.6M340.6 595.1h0.6M349.9 596.7h0.6M358.8 580.3h0.6M365.5 593.3h0.6M361.4 590.7h0.6M346.9 616.5h0.6M334.3 609.6h0.6M348.4 594.8h0.6M348.4 606.3h0.6M365.1 591.4h0.6M360.1 607.1h0.6M364.0 582.2h0.6M355.1 613.3h0.6M353.6 591.3h0.6M345.8 619.7h0.6M349.6 592.5h0.6M360.0 591.6h0.6M362.6 618.9h0.6M343.1 614.3h0.6M356.0 576.0h0.6M339.2 575.9h0.6M356.3 609.2h0.6M365.3 619.4h0.6M362.5 610.6h0.6M346.9 616.9h0.6M353.8 574.9h0.6M354.7 574.1h0.6M354.7 581.2h0.6M351.2 591.1h0.6M348.3 585.7h0.6M352.5 623.0h0.6M339.1 580.7h0.6M356.2 607.2h0.6M354.9 612.8h0.6M348.6 603.2h0.6M347.3 619.0h0.6M339.1 592.3h0.6M334.3 612.5h0.6M334.2 593.8h0.6M352.4 593.6h0.6M365.5 603.9h0.6M365.2 586.5h0.6M360.2 614.3h0.6M356.1 611.1h0.6M355.1 597.6h0.6M355.1 577.2h0.6M358.6 611.3h0.6M364.0 594.5h0.6M336.8 578.2h0.6M365.3 609.5h0.6M364.1 605.6h0.6M348.3 605.9h0.6M357.4 619.3h0.6M366.6 601.8h0.6M358.8 616.4h0.6M362.5 610.7h0.6M355.0 575.7h0.6M352.4 579.6h0.6M347.0 614.0h0.6M355.1 617.9h0.6M357.5 596.6h0.6M357.4 619.9h0.6M363.8 582.4h0.6M345.6 619.8h0.6M364.1 585.6h0.6M342.1 603.8h0.6M358.9 599.8h0.6M348.2 619.0h0.6M356.3 584.7h0.6M362.9 581.1h0.6M352.3 581.4h0.6M344.5 597.8h0.6M352.4 602.6h0.6M362.9 591.5h0.6M366.4 602.3h0.6M347.1 588.8h0.6M357.4 604.7h0.6M365.4 591.2h0.6M354.9 616.4h0.6M345.9 588.1h0.6M342.1 576.2h0.6M360.1 583.4h0.6M338.2 606.7h0.6M364.2 607.1h0.6M344.5 573.4h0.6M362.9 573.7h0.6M352.1 614.9h0.6M361.6 598.9h0.6M355.1 593.4h0.6M336.9 622.4h0.6M357.3 591.3h0.6M365.5 623.0h0.6M354.7 609.5h0.6M346.0 585.8h0.6M352.1 580.5h0.6M359.9 598.3h0.6M352.3 600.3h0.6M362.6 611.1h0.6M359.0 585.1h0.6M350.9 611.5h0.6M357.6 615.0h0.6M344.6 582.1h0.6M356.0 589.7h0.6M353.5 598.8h0.6M341.7 588.4h0.6M352.5 608.5h0.6M357.3 615.6h0.6M339.4 575.9h0.6M344.3 610.3h0.6M350.8 606.7h0.6M358.9 577.6h0.6M364.2 589.8h0.6M361.5 584.2h0.6M354.7 576.5h0.6M349.5 606.7h0.6M351.2 587.7h0.6M361.4 580.1h0.6M362.8 602.1h0.6M335.5 613.3h0.6M362.6 575.7h0.6M357.4 608.0h0.6M356.4 595.0h0.6M352.1 609.5h0.6M354.7 616.9h0.6M337.9 606.8h0.6M361.6 623.1h0.6M359.0 612.5h0.6M353.8 605.4h0.6M352.1 599.1h0.6M353.6 602.6h0.6M361.3 598.3h0.6M348.5 582.3h0.6M343.3 608.4h0.6M350.9 619.6h0.6M345.7 593.2h0.6M361.4 609.8h0.6M352.2 591.1h0.6M357.4 584.8h0.6M355.0 605.0h0.6M343.0 591.1h0.6M359.0 599.4h0.6M365.5 584.5h0.6M364.1 597.5h0.6M362.6 597.5h0.6M364.2 616.6h0.6M352.5 582.2h0.6M358.7 619.4h0.6M344.7 617.8h0.6M360.0 579.0h0.6M348.3 602.9h0.6M365.1 592.6h0.6M362.8 589.7h0.6M354.7 574.0h0.6M353.5 583.1h0.6M363.9 602.5h0.6M344.3 589.4h0.6M353.6 579.2h0.6M357.4 593.9h0.6M359.0 585.1h0.6M341.9 592.0h0.6M355.0 613.8h0.6M357.7 575.7h0.6M350.9 604.4h0.6M361.4 592.5h0.6M337.9 610.9h0.6M358.8 583.7h0.6M357.3 577.6h0.6M350.9 608.3h0.6M366.4 598.7h0.6M360.0 616.3h0.6M360.0 603.9h0.6M343.0 621.0h0.6M353.4 606.0h0.6M344.4 615.5h0.6M344.4 593.2h0.6M364.1 606.4h0.6M353.7 596.0h0.6M345.9 574.4h0.6M359.0 607.3h0.6M351.0 582.9h0.6M352.2 605.4h0.6M349.8 581.6h0.6M344.5 579.7h0.6M354.8 607.1h0.6M355.0 601.7h0.6M354.9 614.8h0.6M358.7 595.6h0.6M361.5 578.4h0.6M335.6 621.9h0.6M343.4 581.9h0.6M350.8 617.8h0.6M361.4 616.4h0.6M349.9 590.0h0.6M356.0 604.4h0.6M358.6 587.7h0.6M351.1 587.1h0.6M360.2 584.5h0.6M362.8 616.4h0.6M353.7 596.3h0.6M349.5 621.1h0.6M356.1 608.0h0.6M347.0 583.9h0.6M345.8 598.2h0.6M357.7 591.0h0.6M348.3 609.8h0.6M347.1 580.8h0.6M349.7 612.6h0.6M356.4 577.7h0.6M352.4 597.3h0.6M353.6 573.1h0.6M342.1 600.8h0.6M354.7 612.1h0.6M355.1 612.6h0.6M361.4 606.9h0.6M340.4 593.7h0.6M339.2 616.6h0.6M358.8 582.6h0.6M360.1 595.1h0.6M361.2 619.8h0.6M366.6 600.1h0.6M358.9 588.4h0.6M341.9 605.6h0.6M355.0 607.8h0.6M357.5 609.9h0.6M362.5 585.5h0.6M347.0 577.3h0.6M357.5 591.7h0.6M357.3 584.2h0.6M361.3 578.4h0.6M360.3 583.5h0.6M357.7 592.7h0.6M350.8 620.7h0.6M348.4 611.7h0.6M349.5 593.4h0.6M347.2 601.2h0.6M353.6 616.5h0.6M354.8 617.3h0.6M349.5 588.1h0.6M357.4 605.3h0.6M356.0 595.2h0.6M352.1 606.7h0.6M353.7 588.4h0.6M359.9 609.8h0.6M357.6 591.5h0.6M356.1 598.2h0.6M361.3 621.7h0.6M361.4 584.5h0.6M344.6 614.9h0.6M357.3 575.1h0.6M352.5 583.2h0.6M357.3 599.1h0.6M352.5 618.1h0.6M352.1 595.4h0.6M344.5 608.7h0.6M355.1 578.5h0.6M356.1 579.4h0.6M356.0 580.6h0.6M358.6 599.0h0.6M359.0 594.0h0.6M357.3 610.3h0.6M362.5 576.2h0.6M353.7 587.0h0.6M358.7 602.5h0.6M362.6 605.3h0.6M358.7 578.8h0.6M351.1 591.8h0.6M351.2 586.8h0.6M362.9 620.4h0.6M360.0 623.2h0.6M360.1 577.0h0.6M339.2 604.0h0.6M349.7 608.9h0.6M356.2 605.7h0.6M335.2 621.3h0.6M354.9 591.8h0.6M358.9 593.2h0.6M350.8 620.8h0.6M360.3 596.4h0.6M342.0 609.0h0.6M361.6 586.5h0.6M349.6 591.5h0.6M361.6 606.7h0.6M361.3 589.9h0.6M362.5 609.1h0.6M360.3 588.2h0.6M353.5 573.6h0.6M356.4 591.9h0.6M357.7 584.5h0.6M360.2 602.3h0.6M341.8 621.8h0.6M357.7 617.6h0.6M357.6 613.7h0.6M352.5 580.8h0.6M343.1 582.6h0.6M352.4 604.6h0.6M364.2 601.5h0.6M356.4 591.7h0.6M352.5 605.5h0.6M365.4 595.4h0.6M364.1 589.0h0.6M349.6 607.4h0.6M337.8 597.8h0.6M349.9 623.1h0.6M358.6 621.9h0.6M349.5 595.8h0.6M351.2 593.8h0.6M360.1 585.0h0.6M357.5 592.9h0.6M350.9 603.5h0.6M340.5 573.6h0.6M362.9 608.1h0.6M361.4 602.2h0.6M358.7 586.2h0.6M336.7 591.9h0.6M355.0 613.3h0.6M338.0 616.8h0.6M358.6 617.2h0.6M343.4 614.6h0.6M341.9 592.1h0.6M358.9 604.0h0.6M344.5 618.9h0.6M366.4 596.1h0.6M357.7 604.4h0.6M353.7 599.8h0.6M365.1 589.1h0.6M336.8 574.6h0.6M360.0 592.2h0.6M355.0 589.4h0.6M365.4 620.9h0.6M351.0 592.4h0.6M357.5 611.9h0.6M335.3 597.8h0.6M339.5 593.0h0.6M363.8 589.6h0.6M353.4 588.3h0.6M353.4 613.3h0.6M339.5 614.3h0.6M366.5 573.1h0.6M361.2 611.6h0.6M355.1 622.5h0.6M353.8 619.3h0.6M353.8 601.5h0.6M349.6 600.3h0.6M363.9 608.1h0.6M338.1 611.5h0.6M348.2 587.2h0.6M349.9 581.0h0.6M350.8 576.7h0.6M336.8 577.2h0.6M366.7 616.9h0.6M356.1 585.2h0.6M357.6 599.7h0.6M337.9 587.7h0.6M357.6 583.8h0.6M355.0 597.2h0.6M347.0 586.0h0.6M352.3 611.7h0.6M341.9 592.2h0.6M362.6 579.2h0.6M359.0 606.2h0.6M364.0 587.5h0.6M344.7 619.6h0.6M359.0 580.0h0.6M355.1 593.8h0.6M335.6 614.2h0.6M358.9 596.6h0.6M353.4 613.2h0.6M336.9 584.1h0.6M351.2 620.5h0.6M345.6 576.5h0.6M353.6 622.4h0.6M360.0 594.0h0.6M364.0 594.4h0.6M354.8 597.8h0.6M363.9 575.7h0.6M356.1 612.4h0.6M342.0 595.2h0.6M350.8 576.3h0.6M356.1 619.2h0.6M344.3 600.8h0.6M341.7 597.5h0.6M356.1 595.4h0.6M349.5 582.1h0.6M348.5 590.5h0.6M353.7 592.8h0.6M340.8 606.8h0.6M354.7 589.8h0.6M357.5 616.7h0.6M357.4 584.7h0.6M344.6 590.6h0.6M352.5 622.6h0.6M356.4 573.5h0.6M335.4 592.5h0.6M344.4 612.4h0.6M358.8 574.8h0.6M341.9 573.0h0.6M352.4 595.3h0.6M356.1 599.9h0.6M357.3 588.6h0.6M348.2 590.5h0.6M353.4 609.8h0.6M357.3 585.7h0.6M343.4 620.2h0.6M353.7 608.0h0.6M342.1 621.1h0.6M354.7 594.6h0.6M335.6 588.5h0.6M361.6 586.7h0.6M361.2 582.0h0.6M360.1 595.4h0.6M347.2 590.3h0.6M360.1 596.9h0.6M354.7 617.5h0.6M338.2 617.6h0.6M356.2 615.0h0.6M353.6 606.5h0.6M352.5 582.4h0.6M335.3 578.9h0.6M352.3 581.8h0.6M336.8 616.3h0.6M358.8 619.9h0.6M366.5 621.2h0.6M338.2 611.9h0.6M353.4 621.2h0.6M355.0 609.4h0.6M355.0 575.2h0.6M347.3 596.7h0.6M344.5 574.3h0.6M352.1 616.2h0.6M348.6 620.6h0.6M336.8 609.6h0.6M334.3 595.1h0.6M361.3 574.5h0.6M343.0 579.9h0.6M358.7 580.4h0.6M356.2 579.6h0.6M357.5 575.9h0.6M338.2 615.3h0.6M335.5 597.8h0.6M357.3 598.8h0.6M338.2 594.1h0.6M357.6 601.7h0.6M351.0 622.7h0.6M362.5 589.5h0.6M361.2 619.3h0.6M361.6 608.1h0.6M358.7 609.7h0.6M349.8 581.4h0.6M355.1 613.5h0.6M337.9 578.4h0.6M358.9 612.2h0.6M352.5 605.6h0.6M353.6 611.1h0.6M338.0 594.2h0.6M352.2 594.5h0.6M355.1 577.5h0.6M356.2 602.8h0.6M350.9 573.8h0.6M365.2 596.4h0.6M361.5 613.1h0.6M353.7 616.4h0.6M338.0 622.6h0.6M349.5 576.0h0.6M336.9 606.5h0.6M360.3 619.9h0.6M338.0 594.2h0.6M365.1 584.5h0.6M353.6 589.3h0.6M358.9 589.6h0.6M365.2 603.5h0.6M353.6 604.4h0.6M345.6 579.2h0.6M339.2 604.1h0.6M350.9 602.5h0.6M357.4 595.1h0.6M339.1 579.6h0.6M353.5 592.9h0.6M347.1 592.9h0.6M364.0 619.3h0.6M364.1 592.2h0.6M356.0 617.5h0.6M354.9 583.4h0.6M350.9 607.3h0.6M334.2 594.8h0.6M356.4 600.7h0.6M361.3 587.6h0.6M351.1 608.1h0.6M354.7 575.2h0.6M365.2 599.6h0.6M353.6 585.2h0.6M358.7 575.3h0.6M342.1 578.9h0.6M346.0 587.9h0.6M360.3 605.3h0.6M343.1 577.4h0.6M335.5 590.6h0.6M366.6 619.8h0.6M361.5 598.7h0.6M364.2 578.6h0.6M357.5 600.8h0.6M362.7 575.1h0.6M335.3 580.2h0.6M359.9 587.8h0.6M356.0 607.5h0.6M346.9 606.1h0.6M363.8 581.3h0.6M361.4 600.8h0.6M361.6 577.4h0.6M360.1 578.9h0.6M352.1 617.0h0.6M350.8 608.5h0.6M360.3 589.0h0.6M361.5 607.9h0.6M355.1 596.2h0.6M345.7 598.8h0.6M362.6 607.9h0.6M360.3 611.2h0.6M345.7 617.5h0.6M344.3 582.8h0.6M335.6 599.6h0.6M352.3 601.0h0.6M358.6 606.8h0.6M360.2 619.8h0.6M356.0 584.9h0.6M339.3 611.7h0.6M345.9 593.0h0.6M354.8 621.3h0.6M356.1 609.8h0.6M359.0 607.4h0.6M352.3 613.5h0.6M365.1 618.1h0.6M349.9 580.5h0.6M354.8 623.0h0.6M335.2 576.8h0.6M344.4 595.5h0.6M347.3 615.2h0.6M348.3 603.3h0.6M354.7 590.4h0.6M343.4 621.2h0.6M363.9 574.2h0.6M362.6 606.9h0.6M353.5 610.0h0.6M357.5 596.3h0.6M358.6 596.4h0.6M340.8 617.2h0.6M361.4 581.8h0.6M356.0 573.3h0.6M340.5 603.1h0.6M360.3 589.6h0.6M352.1 621.6h0.6M361.2 600.3h0.6M364.2 585.7h0.6M357.7 586.3h0.6M345.8 620.0h0.6M362.6 614.3h0.6M345.7 591.5h0.6M342.0 605.8h0.6M364.2 576.6h0.6M345.6 576.9h0.6M360.1 613.0h0.6M364.0 586.8h0.6M366.7 606.7h0.6M347.1 615.7h0.6M357.5 601.9h0.6M356.4 595.1h0.6M351.0 573.1h0.6M361.5 579.6h0.6M361.6 581.8h0.6M347.2 603.1h0.6M362.6 602.6h0.6M340.4 607.9h0.6M357.4 595.1h0.6M344.4 596.9h0.6M349.6 613.1h0.6M361.2 604.5h0.6M358.9 606.7h0.6M356.0 603.8h0.6M349.7 607.5h0.6M348.2 596.3h0.6M364.2 601.0h0.6M358.9 585.5h0.6M366.5 620.2h0.6M364.1 616.6h0.6M348.2 588.4h0.6M356.0 576.6h0.6M356.2 604.8h0.6M357.7 593.8h0.6M345.9 600.3h0.6M357.4 589.1h0.6M350.8 588.0h0.6M359.9 612.2h0.6M356.2 594.2h0.6M339.1 614.8h0.6M354.8 586.4h0.6M350.8 590.1h0.6M356.0 622.2h0.6M361.2 594.0h0.6M355.0 612.8h0.6M346.9 577.7h0.6M361.4 584.8h0.6M337.9 573.1h0.6M347.2 613.3h0.6M366.7 619.6h0.6M336.8 584.4h0.6M348.2 594.9h0.6M351.1 589.9h0.6M356.4 588.6h0.6M358.8 593.5h0.6M336.5 588.7h0.6M348.2 609.1h0.6M354.8 609.3h0.6M354.8 601.4h0.6M356.4 604.8h0.6M339.2 598.6h0.6M360.0 600.2h0.6M362.8 602.4h0.6M345.6 622.3h0.6M337.8 584.2h0.6M337.8 597.9h0.6M353.5 592.2h0.6M361.3 589.3h0.6M357.4 589.3h0.6M361.4 573.1h0.6M349.9 596.0h0.6M361.2 598.2h0.6M337.9 604.1h0.6M355.0 592.0h0.6M346.9 615.1h0.6M363.8 611.7h0.6M355.1 614.2h0.6M347.3 586.1h0.6M356.1 592.2h0.6M360.2 582.3h0.6M356.3 599.4h0.6M358.7 599.9h0.6M365.2 580.4h0.6M349.8 577.4h0.6M366.6 599.6h0.6M362.8 577.0h0.6M341.9 599.6h0.6M361.6 592.9h0.6M347.3 611.7h0.6M357.6 621.3h0.6M358.7 601.6h0.6M354.8 612.3h0.6M354.9 608.5h0.6M351.1 597.9h0.6M348.3 574.3h0.6M352.1 597.3h0.6M356.0 595.3h0.6M349.6 579.7h0.6M357.5 621.8h0.6M353.7 597.8h0.6M361.3 592.4h0.6M348.4 621.5h0.6M353.8 589.8h0.6M364.0 576.4h0.6M345.9 587.3h0.6M345.7 618.0h0.6M354.8 597.5h0.6M337.9 613.0h0.6M348.5 612.9h0.6M361.6 591.0h0.6M349.9 597.0h0.6M361.2 581.3h0.6M352.5 580.6h0.6M362.7 578.4h0.6M365.3 603.7h0.6M365.3 575.5h0.6M339.2 579.9h0.6M353.6 596.6h0.6M352.4 600.0h0.6M364.2 622.5h0.6M345.7 595.6h0.6M356.0 598.5h0.6M362.7 578.3h0.6M344.5 612.5h0.6M353.4 603.7h0.6M342.1 584.4h0.6M358.7 621.9h0.6M357.6 574.7h0.6M352.1 602.2h0.6M352.4 579.1h0.6M366.4 586.3h0.6M365.5 616.5h0.6M358.8 623.1h0.6M337.9 579.5h0.6M355.1 573.5h0.6M348.6 586.2h0.6M358.9 618.1h0.6M353.4 603.5h0.6M358.8 578.7h0.6M355.0 577.0h0.6M357.5 591.0h0.6M353.5 601.4h0.6M345.8 602.0h0.6M354.7 602.3h0.6M366.6 608.9h0.6M352.3 614.3h0.6M356.3 587.5h0.6M349.6 611.5h0.6M356.1 585.8h0.6M364.2 585.5h0.6M356.4 607.2h0.6M356.2 607.4h0.6M351.1 602.4h0.6M363.9 585.9h0.6M352.5 600.9h0.6M349.7 587.1h0.6M351.2 597.5h0.6M355.0 598.6h0.6M360.3 611.4h0.6M365.3 605.8h0.6M335.4 615.0h0.6M335.2 618.5h0.6M339.4 619.5h0.6M355.1 577.4h0.6M359.0 590.2h0.6M362.5 576.2h0.6M365.4 617.1h0.6M351.0 582.1h0.6M359.9 606.0h0.6M364.1 576.8h0.6M352.5 597.7h0.6M361.5 581.7h0.6M352.5 597.8h0.6M352.3 586.9h0.6M349.8 584.5h0.6M348.2 586.7h0.6M343.3 588.4h0.6M357.5 616.7h0.6M335.5 604.2h0.6M353.4 608.0h0.6M350.9 615.8h0.6M351.1 597.8h0.6M356.1 575.0h0.6M364.1 581.0h0.6M343.4 605.7h0.6M358.7 615.0h0.6M359.0 585.8h0.6M356.1 576.9h0.6M356.2 600.4h0.6M336.6 607.5h0.6M350.9 584.2h0.6M346.0 618.4h0.6M343.2 578.2h0.6M362.9 611.4h0.6M360.0 619.9h0.6M362.5 620.8h0.6M347.1 603.6h0.6M362.9 589.4h0.6M348.5 605.6h0.6M336.5 618.2h0.6M341.7 604.9h0.6M360.1 610.2h0.6M357.7 612.8h0.6M357.5 614.5h0.6M355.0 582.0h0.6M343.1 616.2h0.6M343.4 576.0h0.6M356.4 591.0h0.6M359.0 599.8h0.6M348.4 621.1h0.6M350.8 580.4h0.6M360.1 576.0h0.6M339.5 575.3h0.6M339.2 594.2h0.6M348.4 593.2h0.6M343.4 582.6h0.6M356.2 590.7h0.6M335.5 591.3h0.6M344.5 589.0h0.6M343.3 593.7h0.6M343.2 601.0h0.6M354.9 577.3h0.6M358.6 606.3h0.6M360.3 584.8h0.6M358.9 602.1h0.6M360.3 607.0h0.6M351.0 577.6h0.6M352.5 591.8h0.6M336.8 616.5h0.6M352.2 583.6h0.6M361.5 598.6h0.6M365.5 620.5h0.6M335.2 622.1h0.6M355.0 594.9h0.6M361.3 579.1h0.6M352.5 587.8h0.6M343.4 583.5h0.6M352.2 577.0h0.6M362.7 614.1h0.6M359.0 584.7h0.6M335.2 608.6h0.6M361.2 596.8h0.6M347.1 594.1h0.6M335.6 602.2h0.6M356.4 615.3h0.6M360.2 600.8h0.6M365.1 601.4h0.6M358.6 581.3h0.6M353.8 606.2h0.6M334.3 597.6h0.6M335.6 596.9h0.6M354.9 584.0h0.6M339.4 604.1h0.6M365.2 607.4h0.6M359.0 614.5h0.6M353.5 618.7h0.6M365.2 614.3h0.6M361.6 595.9h0.6M358.8 616.9h0.6M349.5 596.4h0.6M359.0 584.3h0.6M355.0 607.1h0.6M351.2 598.5h0.6M349.7 607.7h0.6M353.7 619.7h0.6M352.2 577.9h0.6M346.0 582.2h0.6M360.1 616.2h0.6M353.5 598.9h0.6M348.3 616.6h0.6M353.6 608.5h0.6M358.9 597.8h0.6M361.4 621.2h0.6M356.0 583.3h0.6M361.2 586.7h0.6M339.2 618.5h0.6M352.2 603.1h0.6M349.5 600.6h0.6M356.3 604.0h0.6M353.4 582.3h0.6M359.9 594.0h0.6M345.8 610.4h0.6M343.3 591.9h0.6M358.8 606.6h0.6M358.7 615.7h0.6M346.0 574.9h0.6M340.4 611.3h0.6M353.7 573.4h0.6M356.2 590.4h0.6M349.9 615.4h0.6M359.0 618.0h0.6M350.8 589.1h0.6M360.0 611.6h0.6M361.2 615.6h0.6M354.8 608.0h0.6M364.1 602.4h0.6M353.4 604.8h0.6M357.4 597.0h0.6M365.4 576.7h0.6M343.2 586.1h0.6M358.7 617.3h0.6M343.2 573.4h0.6M354.7 599.1h0.6M354.7 614.2h0.6M344.6 616.3h0.6M336.9 585.5h0.6M356.2 618.4h0.6M356.2 598.1h0.6M340.5 615.5h0.6M357.6 598.7h0.6M356.0 595.3h0.6M340.6 576.9h0.6M357.6 613.1h0.6M343.4 591.7h0.6M356.4 600.4h0.6M337.8 586.3h0.6M359.0 607.1h0.6M353.7 589.0h0.6M336.9 612.6h0.6M356.1 579.4h0.6M356.0 585.1h0.6M349.5 575.3h0.6M365.1 610.7h0.6M344.5 622.9h0.6M347.3 586.1h0.6M344.5 588.9h0.6M362.8 582.2h0.6M357.5 615.7h0.6M365.3 612.5h0.6M356.0 597.1h0.6M352.3 600.1h0.6M362.6 586.8h0.6M353.4 615.7h0.6M337.9 618.5h0.6M357.3 585.8h0.6M364.1 580.8h0.6M356.0 578.2h0.6M362.5 613.5h0.6M354.8 614.2h0.6M358.6 621.0h0.6M365.1 577.7h0.6M339.4 606.8h0.6M352.3 583.7h0.6M355.0 604.3h0.6M364.0 602.7h0.6M351.1 599.8h0.6M353.4 599.2h0.6M357.4 598.6h0.6M353.6 598.6h0.6M362.7 612.4h0.6M337.9 588.8h0.6M356.2 587.8h0.6M357.4 608.2h0.6M339.4 621.2h0.6M363.9 580.3h0.6M347.0 596.3h0.6M364.2 611.5h0.6M349.6 573.3h0.6M354.9 579.6h0.6M347.0 607.5h0.6M359.9 615.2h0.6M362.6 586.3h0.6M339.5 605.9h0.6M335.3 594.3h0.6M339.3 576.9h0.6M359.0 610.7h0.6M357.5 577.1h0.6M358.6 619.3h0.6M343.4 581.0h0.6M349.5 612.7h0.6M360.0 575.1h0.6M364.1 598.5h0.6M340.5 583.6h0.6M357.3 609.5h0.6M352.4 609.2h0.6M340.4 605.2h0.6M334.3 618.1h0.6M357.5 605.7h0.6M354.9 611.7h0.6M364.0 589.9h0.6M358.7 588.7h0.6M362.7 615.5h0.6M348.5 592.5h0.6M356.4 603.6h0.6M345.6 601.7h0.6M362.8 601.7h0.6M338.2 602.2h0.6M340.4 608.5h0.6M356.1 597.5h0.6M355.1 577.5h0.6M352.3 606.6h0.6M336.7 613.0h0.6M366.5 583.5h0.6M348.3 594.1h0.6M365.3 620.9h0.6M357.5 574.1h0.6M357.7 578.8h0.6M350.8 578.6h0.6M346.9 597.1h0.6M356.4 575.4h0.6M362.9 612.1h0.6M360.1 591.0h0.6M357.6 585.9h0.6M352.3 577.5h0.6M356.4 593.1h0.6M359.0 610.0h0.6M356.3 573.8h0.6M353.4 590.7h0.6M335.6 577.6h0.6M365.4 615.3h0.6M348.6 574.8h0.6M355.0 580.5h0.6M349.8 582.0h0.6M365.2 614.2h0.6M356.2 594.0h0.6M356.0 576.8h0.6M362.6 617.0h0.6M364.2 608.8h0.6M357.6 590.1h0.6M356.2 622.4h0.6M346.0 621.1h0.6M352.1 612.7h0.6M357.6 608.0h0.6M338.0 576.1h0.6M344.7 592.1h0.6M355.0 584.5h0.6M357.6 619.5h0.6M354.9 594.2h0.6M349.6 599.3h0.6M361.6 613.8h0.6M349.7 615.4h0.6M356.1 573.7h0.6M344.7 593.4h0.6M361.2 610.9h0.6M339.5 575.1h0.6M337.8 586.4h0.6M346.0 573.9h0.6M360.0 615.7h0.6M352.5 613.5h0.6M347.1 584.0h0.6M357.5 579.6h0.6M366.4 619.6h0.6M349.9 622.2h0.6M357.6 602.9h0.6M358.8 588.8h0.6M365.1 597.5h0.6M360.2 594.7h0.6M356.4 602.2h0.6M366.8 590.0h0.6M359.0 619.9h0.6M365.4 610.5h0.6M341.7 610.4h0.6M356.0 601.1h0.6M356.3 610.6h0.6M348.4 594.7h0.6M356.0 607.5h0.6M344.7 609.2h0.6M353.7 615.4h0.6M361.3 592.0h0.6M350.9 576.0h0.6M357.6 592.9h0.6M335.2 573.9h0.6M350.9 599.4h0.6M353.4 621.4h0.6M336.8 598.6h0.6M361.5 620.3h0.6M363.8 614.4h0.6M365.5 611.0h0.6M352.3 612.4h0.6M349.8 590.2h0.6M358.7 607.3h0.6M345.8 597.3h0.6M343.1 592.7h0.6M339.5 598.3h0.6M346.9 592.4h0.6M336.9 602.5h0.6M354.7 585.4h0.6M354.9 586.6h0.6M356.2 610.7h0.6M336.8 597.3h0.6M365.2 615.8h0.6M355.0 573.3h0.6M348.4 598.0h0.6M357.6 575.7h0.6M365.5 587.2h0.6M352.5 622.4h0.6M354.8 581.6h0.6M355.1 576.6h0.6M365.1 588.6h0.6M352.4 621.6h0.6M348.5 579.7h0.6M362.9 580.0h0.6M359.0 608.1h0.6M336.8 574.2h0.6M360.0 573.1h0.6M366.7 591.4h0.6M362.6 584.1h0.6M348.4 588.6h0.6M366.6 616.0h0.6M343.2 613.3h0.6M358.9 614.6h0.6M365.3 592.5h0.6M352.1 623.0h0.6M356.4 573.8h0.6M358.9 597.6h0.6M348.6 611.3h0.6M348.4 596.9h0.6M353.7 610.0h0.6M357.6 592.0h0.6M365.4 592.2h0.6M352.3 603.4h0.6M344.3 617.8h0.6M366.7 609.2h0.6M348.2 616.0h0.6M357.4 598.1h0.6M345.8 596.0h0.6M355.1 618.7h0.6M353.7 592.2h0.6M352.4 588.1h0.6M345.9 597.8h0.6M366.5 573.2h0.6M351.1 614.8h0.6M347.3 592.6h0.6M361.3 594.1h0.6M353.8 576.0h0.6M360.1 605.3h0.6M361.5 617.0h0.6M353.5 615.9h0.6M348.5 582.3h0.6M357.4 601.9h0.6M352.2 610.2h0.6M356.3 610.7h0.6M352.5 573.4h0.6M354.9 618.6h0.6M353.4 604.4h0.6M358.8 614.8h0.6M360.0 574.9h0.6M353.5 599.6h0.6M339.2 591.8h0.6M345.9 580.6h0.6M349.5 575.4h0.6M336.9 607.7h0.6M352.3 575.8h0.6M349.9 610.9h0.6M353.6 606.0h0.6M366.5 615.1h0.6M349.9 590.3h0.6M361.4 583.6h0.6M357.5 587.3h0.6M358.6 597.5h0.6M353.7 607.1h0.6M357.4 617.9h0.6M360.0 596.0h0.6M361.4 620.8h0.6M353.8 588.2h0.6M358.6 607.7h0.6M360.2 610.4h0.6M357.3 620.1h0.6M349.6 576.9h0.6M358.6 578.0h0.6M349.8 593.7h0.6M362.6 600.0h0.6M348.6 608.5h0.6M341.9 600.3h0.6M334.3 595.5h0.6M364.2 601.0h0.6M358.9 619.0h0.6M355.0 584.0h0.6M359.9 581.8h0.6M348.4 573.6h0.6M341.7 575.9h0.6M354.9 581.2h0.6M362.6 576.6h0.6M336.8 611.1h0.6M359.0 580.4h0.6M364.2 615.7h0.6M345.7 585.8h0.6M356.1 580.1h0.6M344.4 622.0h0.6M348.2 591.4h0.6M362.9 586.6h0.6M355.1 576.8h0.6M353.5 615.0h0.6M364.2 619.8h0.6M356.3 609.6h0.6M335.5 611.3h0.6M358.8 578.3h0.6M347.3 609.9h0.6M358.6 594.5h0.6M362.9 589.3h0.6M352.4 613.4h0.6M355.1 579.3h0.6M356.0 581.5h0.6M344.7 587.0h0.6M349.7 620.3h0.6M364.0 620.6h0.6M358.8 575.2h0.6M351.1 578.9h0.6M345.7 614.4h0.6M358.8 600.0h0.6M364.1 577.0h0.6M335.2 606.1h0.6M357.3 618.7h0.6M356.4 613.3h0.6M348.6 620.2h0.6M336.6 608.4h0.6M359.9 596.9h0.6M362.8 583.7h0.6M338.1 605.4h0.6M352.4 582.3h0.6M352.5 604.1h0.6M350.8 597.0h0.6M348.2 578.4h0.6M348.3 595.7h0.6M366.4 614.7h0.6M340.5 576.9h0.6M348.4 615.6h0.6M352.1 579.8h0.6M338.2 575.7h0.6M356.4 593.5h0.6M353.4 589.9h0.6M356.3 582.1h0.6M347.3 581.8h0.6M343.0 607.8h0.6M344.5 615.3h0.6M353.7 608.9h0.6M353.4 611.5h0.6M352.4 620.7h0.6M353.5 618.4h0.6M347.3 602.3h0.6M362.8 591.6h0.6M348.4 618.2h0.6M352.3 580.3h0.6M356.2 604.2h0.6M358.9 600.5h0.6M336.6 574.1h0.6M358.8 592.0h0.6M362.9 621.5h0.6M347.3 611.4h0.6M354.8 599.3h0.6M338.2 606.7h0.6M347.0 593.4h0.6M348.5 617.1h0.6M358.7 573.6h0.6M354.7 587.5h0.6M358.7 593.3h0.6M356.3 587.3h0.6M353.6 610.6h0.6M335.3 601.7h0.6M357.4 601.1h0.6M361.2 618.6h0.6M366.6 600.4h0.6M348.3 576.0h0.6M348.6 603.1h0.6M347.0 607.7h0.6M363.8 590.3h0.6M364.0 612.6h0.6M353.7 588.0h0.6M353.5 609.4h0.6M364.0 576.3h0.6M343.3 597.6h0.6M361.5 596.1h0.6M360.1 622.4h0.6M357.5 599.8h0.6M358.8 586.6h0.6M354.9 587.6h0.6M353.4 621.9h0.6M349.6 587.2h0.6M344.3 601.9h0.6M343.1 595.4h0.6M360.1 576.5h0.6M357.7 594.8h0.6M356.3 607.5h0.6M356.2 616.1h0.6M352.3 592.7h0.6M356.4 607.8h0.6M344.5 591.4h0.6M345.9 581.9h0.6M343.4 591.4h0.6M352.2 600.7h0.6M356.4 601.5h0.6M339.5 605.2h0.6M344.6 599.5h0.6M366.7 615.2h0.6M347.3 618.6h0.6M348.4 575.3h0.6M361.4 596.4h0.6M335.4 585.6h0.6M345.9 618.1h0.6M356.0 573.7h0.6M349.7 574.5h0.6M357.5 584.2h0.6M355.1 577.7h0.6M360.0 574.5h0.6M343.3 613.9h0.6M335.4 615.8h0.6M353.6 614.4h0.6M345.8 596.7h0.6M360.2 615.0h0.6M348.4 589.6h0.6M356.3 581.4h0.6M351.1 578.6h0.6M359.0 582.3h0.6M347.2 608.1h0.6M362.7 609.0h0.6M355.1 589.7h0.6M339.1 602.7h0.6M353.7 610.1h0.6M337.8 602.3h0.6M358.9 600.5h0.6M361.5 614.6h0.6M343.0 608.4h0.6M354.9 595.9h0.6M346.9 620.8h0.6M364.2 595.0h0.6M350.9 612.5h0.6M357.7 583.7h0.6M358.9 586.8h0.6M353.6 585.4h0.6M365.5 581.0h0.6M348.4 621.3h0.6M356.1 593.2h0.6M360.0 610.8h0.6M360.3 605.5h0.6M362.7 584.5h0.6M348.4 617.1h0.6M341.8 600.1h0.6M344.6 594.2h0.6M352.4 601.8h0.6M346.9 591.3h0.6M361.2 611.7h0.6M349.8 576.3h0.6M356.4 598.6h0.6M362.7 590.3h0.6M355.0 596.2h0.6M366.7 598.8h0.6M349.7 594.1h0.6M366.6 601.1h0.6M345.7 612.0h0.6M352.4 587.2h0.6M359.9 615.3h0.6M341.8 600.9h0.6M340.4 584.6h0.6M347.2 609.6h0.6M355.0 605.6h0.6M355.0 580.0h0.6M352.5 606.6h0.6M356.1 607.9h0.6M356.1 621.6h0.6M348.6 623.0h0.6M349.5 585.3h0.6M360.2 573.9h0.6M347.2 586.0h0.6M360.0 573.8h0.6M345.7 620.0h0.6M353.6 617.0h0.6M361.6 584.6h0.6M356.0 605.7h0.6M345.9 584.1h0.6M348.2 612.0h0.6M360.1 595.8h0.6M348.2 608.0h0.6M352.2 581.2h0.6M348.2 616.9h0.6M354.8 580.9h0.6M359.9 619.5h0.6M361.4 595.0h0.6M356.1 618.3h0.6M363.8 594.3h0.6M344.4 574.0h0.6M352.2 586.0h0.6M339.4 616.9h0.6M364.0 586.7h0.6M362.8 619.1h0.6M353.6 602.2h0.6M355.0 600.3h0.6M361.2 600.5h0.6M355.1 603.6h0.6M338.2 619.8h0.6M361.4 594.9h0.6M361.4 608.9h0.6M362.7 620.5h0.6M362.7 611.9h0.6M357.3 609.3h0.6M361.2 599.2h0.6M342.1 575.8h0.6M351.0 607.0h0.6M363.9 575.3h0.6M345.7 592.9h0.6M343.3 601.5h0.6M360.0 582.7h0.6M356.1 578.9h0.6M345.8 606.0h0.6M354.7 614.2h0.6M336.6 594.4h0.6M344.7 577.6h0.6M336.8 621.9h0.6M363.9 621.0h0.6M343.3 619.2h0.6M349.7 619.2h0.6M362.7 581.4h0.6M360.3 613.4h0.6" stroke="#1d0812" stroke-width="0.6" fill="none"/>
<path d="M354.8 575.1h0.6M361.6 588.5h0.6M348.3 618.9h0.6M348.5 588.8h0.6M358.6 602.6h0.6M360.0 617.4h0.6M357.5 576.4h0.6M357.3 597.7h0.6M355.1 622.0h0.6M356.4 621.9h0.6M353.7 583.1h0.6M356.2 601.3h0.6M345.6 593.7h0.6M336.7 604.0h0.6M355.1 622.0h0.6M362.6 606.4h0.6M354.8 609.6h0.6M352.2 579.8h0.6M358.7 593.0h0.6M360.3 600.4h0.6M353.8 600.2h0.6M360.0 583.9h0.6M359.9 595.1h0.6M358.6 611.5h0.6M355.0 607.8h0.6M354.9 587.8h0.6M356.0 622.6h0.6M360.0 620.0h0.6M353.7 612.8h0.6M344.3 585.4h0.6M360.0 605.0h0.6M337.9 618.0h0.6M356.0 585.5h0.6M358.6 599.3h0.6M360.1 604.5h0.6M357.6 596.0h0.6M355.1 600.6h0.6M355.0 598.3h0.6M355.1 589.7h0.6M353.8 614.3h0.6M356.2 595.6h0.6M360.0 598.2h0.6M361.5 584.4h0.6M361.2 597.8h0.6M353.7 577.1h0.6M360.1 619.7h0.6M354.7 606.2h0.6M358.7 579.1h0.6M356.2 617.9h0.6M350.8 584.9h0.6M357.3 588.8h0.6M356.4 600.7h0.6M357.3 602.6h0.6M357.7 617.2h0.6M360.1 595.1h0.6M358.6 616.8h0.6M356.4 582.0h0.6M361.3 618.7h0.6M361.4 590.5h0.6M356.4 621.8h0.6M364.0 606.9h0.6M348.6 613.5h0.6M353.4 587.4h0.6M361.2 618.9h0.6M361.4 611.0h0.6M353.4 586.7h0.6M358.7 606.8h0.6M357.6 620.0h0.6M365.1 598.6h0.6M358.8 603.5h0.6M354.8 610.8h0.6M352.3 591.7h0.6M358.9 612.3h0.6M358.9 614.0h0.6M335.6 596.8h0.6M351.1 579.8h0.6M362.6 593.2h0.6M361.6 605.9h0.6M357.7 604.2h0.6M355.0 622.6h0.6M352.3 588.8h0.6M358.9 614.5h0.6M356.2 594.1h0.6M352.4 593.5h0.6M349.5 612.7h0.6M356.2 618.4h0.6M358.9 611.7h0.6M355.0 603.2h0.6M350.9 618.8h0.6M356.1 606.4h0.6M360.1 613.7h0.6M365.3 586.5h0.6M354.8 585.2h0.6M355.0 590.1h0.6M355.1 593.6h0.6M360.3 609.8h0.6M354.7 597.8h0.6M358.6 598.0h0.6M355.0 612.8h0.6M354.8 578.8h0.6M352.1 622.1h0.6M345.8 607.5h0.6M352.2 609.9h0.6M353.4 597.7h0.6M358.6 600.3h0.6M353.7 595.4h0.6M340.4 602.5h0.6M356.1 594.3h0.6M357.7 588.5h0.6M364.0 581.4h0.6M346.0 618.6h0.6M354.7 614.1h0.6M356.3 577.6h0.6M355.1 599.9h0.6M363.9 609.1h0.6M356.2 590.1h0.6M356.0 617.2h0.6M360.1 614.2h0.6M362.9 615.5h0.6M365.5 606.0h0.6M353.6 620.8h0.6M361.6 622.3h0.6M357.6 579.2h0.6M357.5 578.5h0.6M357.4 612.2h0.6M354.7 589.8h0.6M343.1 596.8h0.6M360.0 607.2h0.6M361.5 581.8h0.6M359.0 584.0h0.6M358.7 603.0h0.6M358.7 599.9h0.6M356.3 575.0h0.6M340.6 584.1h0.6M356.1 606.0h0.6M362.7 601.5h0.6M348.3 599.5h0.6M335.5 590.6h0.6M357.5 590.0h0.6M363.8 579.7h0.6M336.6 607.3h0.6M360.3 595.9h0.6M356.3 579.3h0.6M357.6 607.9h0.6M351.0 599.6h0.6M357.5 587.9h0.6M356.4 605.0h0.6M353.8 578.1h0.6M354.8 603.8h0.6M360.0 619.3h0.6M356.2 593.0h0.6M361.3 613.9h0.6M362.9 616.6h0.6M361.6 589.1h0.6M364.0 586.9h0.6M356.4 609.7h0.6M358.8 608.0h0.6M357.7 579.6h0.6M362.7 622.6h0.6M360.3 621.6h0.6M361.6 608.3h0.6M360.3 581.4h0.6M351.0 583.8h0.6M356.3 601.9h0.6M351.2 581.5h0.6M350.9 597.4h0.6M352.2 592.9h0.6M354.7 611.9h0.6M353.5 593.6h0.6M361.6 607.6h0.6M352.3 623.1h0.6M356.0 588.3h0.6M358.6 616.9h0.6M358.8 591.9h0.6M358.6 592.2h0.6M361.6 603.5h0.6M360.2 579.0h0.6M362.5 588.5h0.6M357.7 582.0h0.6M358.8 591.1h0.6M353.7 578.8h0.6M359.9 598.4h0.6M361.5 590.7h0.6M349.7 604.9h0.6M360.2 620.8h0.6M359.0 581.8h0.6M356.4 612.4h0.6M352.1 606.8h0.6M354.9 606.6h0.6M357.6 577.9h0.6M357.7 604.6h0.6M362.8 576.9h0.6M353.7 615.9h0.6M359.0 611.5h0.6M361.3 585.0h0.6M357.5 584.3h0.6M365.1 617.5h0.6M354.7 585.7h0.6M362.7 617.2h0.6M362.8 602.4h0.6M358.9 604.1h0.6M340.8 611.5h0.6M358.7 602.9h0.6M342.1 606.7h0.6M344.6 617.9h0.6M357.7 605.6h0.6M354.7 600.0h0.6M365.1 589.7h0.6M358.9 584.5h0.6M355.1 581.1h0.6M356.0 607.7h0.6M364.2 590.9h0.6M366.7 619.2h0.6M358.6 610.9h0.6M360.2 591.9h0.6M365.4 577.9h0.6M360.2 587.9h0.6M343.3 610.5h0.6M358.9 581.8h0.6M361.2 579.2h0.6M355.1 590.3h0.6M356.3 612.6h0.6M357.3 618.5h0.6M357.7 606.0h0.6M355.1 608.7h0.6M361.5 576.3h0.6M353.7 575.7h0.6M362.5 612.9h0.6M360.2 619.1h0.6M340.5 613.3h0.6M360.2 587.4h0.6M356.1 595.4h0.6M358.6 585.2h0.6M356.3 609.6h0.6M357.3 592.0h0.6M361.3 613.4h0.6M352.2 607.1h0.6M359.9 580.1h0.6M360.3 607.2h0.6M352.5 603.8h0.6M358.6 580.4h0.6M360.0 602.2h0.6M356.4 584.3h0.6M365.1 578.1h0.6M357.3 614.0h0.6M362.5 576.1h0.6M345.7 608.8h0.6M357.4 582.2h0.6M356.0 585.8h0.6M349.6 598.6h0.6M357.5 614.2h0.6M358.8 614.2h0.6M352.4 623.2h0.6M365.3 596.8h0.6M353.6 618.0h0.6M353.4 583.5h0.6M366.6 613.5h0.6M364.0 585.9h0.6M348.4 610.9h0.6M366.6 595.5h0.6M354.9 589.8h0.6M358.9 591.9h0.6M357.6 612.4h0.6M358.9 583.4h0.6M361.4 605.5h0.6M352.1 615.9h0.6M357.6 608.7h0.6M363.9 587.0h0.6M361.3 580.0h0.6M352.3 577.8h0.6M342.0 584.9h0.6M360.0 602.6h0.6M361.3 581.4h0.6M353.5 583.0h0.6M360.2 605.6h0.6M354.7 619.1h0.6M353.6 587.6h0.6M361.6 581.0h0.6M357.4 586.3h0.6M353.6 616.6h0.6M361.6 596.1h0.6M355.1 605.7h0.6M358.8 609.3h0.6M359.0 591.9h0.6M362.9 596.0h0.6M352.5 584.8h0.6M358.8 593.5h0.6M359.9 591.5h0.6M361.6 606.6h0.6M362.7 576.0h0.6M358.8 615.7h0.6M361.4 597.6h0.6M362.7 602.7h0.6M359.0 590.5h0.6M356.1 614.0h0.6M361.2 575.8h0.6M358.7 596.8h0.6M362.7 622.3h0.6M364.2 608.4h0.6M360.2 607.0h0.6M358.6 605.9h0.6M342.1 600.8h0.6M360.3 584.8h0.6M362.5 585.1h0.6M355.0 586.6h0.6M358.8 583.2h0.6M357.6 577.4h0.6M357.7 604.7h0.6M353.5 577.6h0.6M359.9 585.0h0.6M361.2 599.7h0.6M360.1 610.8h0.6M354.7 608.5h0.6M358.7 579.0h0.6M361.6 615.8h0.6M354.8 617.8h0.6M349.7 595.5h0.6M362.9 609.1h0.6M352.1 576.0h0.6M352.5 621.3h0.6M359.9 588.1h0.6M365.2 598.3h0.6M357.7 618.3h0.6M357.7 604.6h0.6M340.6 619.3h0.6M361.5 614.0h0.6M354.9 600.1h0.6M352.5 622.7h0.6M355.1 586.6h0.6M353.5 613.8h0.6M358.6 603.6h0.6M357.4 578.8h0.6M354.8 591.8h0.6M355.1 593.4h0.6M354.8 607.4h0.6M363.8 587.5h0.6M356.0 593.7h0.6M361.2 593.2h0.6M354.8 602.8h0.6M359.0 605.5h0.6M360.0 589.4h0.6M362.9 605.7h0.6M357.3 612.9h0.6M352.4 588.9h0.6M360.3 597.6h0.6M355.0 619.8h0.6M351.2 587.1h0.6M357.4 620.7h0.6M358.7 619.8h0.6M358.7 614.8h0.6M358.7 586.7h0.6M348.6 598.6h0.6M357.4 577.3h0.6M355.1 582.4h0.6M357.6 609.4h0.6M335.5 613.3h0.6M358.6 622.3h0.6M360.2 583.3h0.6M358.6 579.4h0.6M350.8 592.1h0.6M356.2 583.0h0.6M362.8 604.3h0.6M356.3 621.9h0.6M358.7 606.6h0.6M339.1 599.2h0.6M354.9 622.8h0.6M354.7 603.4h0.6M349.7 608.8h0.6M365.2 583.6h0.6M353.8 582.1h0.6M358.6 581.4h0.6M355.0 620.3h0.6M360.1 594.8h0.6M357.4 609.9h0.6M357.6 596.3h0.6M359.0 603.4h0.6M360.1 598.8h0.6M353.8 618.0h0.6M360.1 585.7h0.6M338.0 575.6h0.6M357.3 599.1h0.6M357.4 577.6h0.6M356.2 585.6h0.6M358.9 575.7h0.6M352.4 615.5h0.6M350.9 614.3h0.6M348.2 618.9h0.6M358.8 613.5h0.6M356.0 621.2h0.6M357.5 580.8h0.6M351.2 588.1h0.6M357.6 602.7h0.6M362.6 621.0h0.6M360.3 615.9h0.6M362.9 597.1h0.6M355.1 618.4h0.6M353.8 590.3h0.6M360.0 623.0h0.6M361.3 621.5h0.6M357.3 597.2h0.6M352.5 579.8h0.6M356.4 602.7h0.6M357.4 582.4h0.6M360.1 593.9h0.6M357.3 585.0h0.6M356.1 581.0h0.6M354.8 613.5h0.6M353.5 576.9h0.6M363.9 588.7h0.6M362.6 613.0h0.6M357.4 615.6h0.6M340.7 583.3h0.6M360.1 610.8h0.6M361.2 597.1h0.6M353.5 585.2h0.6M358.8 618.6h0.6M353.5 584.0h0.6M358.8 584.4h0.6M348.4 591.7h0.6M356.2 591.6h0.6M352.2 610.5h0.6M358.6 577.4h0.6M353.5 591.6h0.6M354.8 600.5h0.6M354.7 611.4h0.6M355.1 620.5h0.6M355.0 595.2h0.6M357.3 604.2h0.6M357.4 605.8h0.6M355.1 619.8h0.6M357.6 591.7h0.6M362.8 618.9h0.6M355.1 604.1h0.6M353.5 580.2h0.6M358.7 618.3h0.6M362.5 590.0h0.6M357.5 600.5h0.6M356.4 607.8h0.6M353.8 576.4h0.6M366.6 615.6h0.6M336.9 576.0h0.6M358.9 593.6h0.6M358.8 588.6h0.6M361.4 584.1h0.6M359.9 589.6h0.6M359.9 617.6h0.6M361.6 619.4h0.6M343.3 578.4h0.6M356.0 581.7h0.6M352.4 590.8h0.6M365.1 601.3h0.6M365.4 623.1h0.6M361.5 581.2h0.6M361.5 597.2h0.6M354.7 585.6h0.6M358.9 623.1h0.6M359.0 585.1h0.6M352.2 589.4h0.6M362.6 587.5h0.6M360.2 591.9h0.6M347.1 603.6h0.6M352.5 598.1h0.6M361.4 575.6h0.6M357.3 587.9h0.6M363.8 603.4h0.6M360.1 595.5h0.6M358.6 604.6h0.6M359.0 618.0h0.6M362.7 611.2h0.6M356.2 610.4h0.6M353.7 593.6h0.6M354.9 593.3h0.6M353.7 617.4h0.6M355.0 607.0h0.6M353.4 592.5h0.6M351.1 606.5h0.6M351.1 581.3h0.6M349.7 608.4h0.6M358.6 603.7h0.6M357.4 623.2h0.6M356.1 587.2h0.6M361.6 610.5h0.6M365.5 579.6h0.6M352.5 596.3h0.6M363.8 602.8h0.6M360.3 591.1h0.6M356.3 620.1h0.6M356.1 580.0h0.6M360.0 614.7h0.6M353.4 608.5h0.6M357.6 583.2h0.6M344.3 582.3h0.6M360.3 593.1h0.6M360.2 578.6h0.6M359.9 583.9h0.6M355.1 594.3h0.6M354.8 591.4h0.6M357.6 579.4h0.6M357.7 604.7h0.6M356.0 584.8h0.6M359.0 584.7h0.6M357.5 579.6h0.6M358.6 599.8h0.6M354.7 609.0h0.6M356.0 600.8h0.6M359.0 618.7h0.6M352.2 597.7h0.6M357.5 596.5h0.6M366.7 616.5h0.6M360.1 611.9h0.6M359.0 612.6h0.6M361.3 617.0h0.6M352.4 610.1h0.6M358.8 621.0h0.6M346.9 612.2h0.6M352.2 581.1h0.6M359.0 622.7h0.6M356.2 598.4h0.6M360.3 615.6h0.6M351.0 578.0h0.6M360.1 623.0h0.6M356.4 584.8h0.6M356.3 584.9h0.6M354.8 578.1h0.6M359.0 601.2h0.6M355.0 608.4h0.6M357.4 580.9h0.6M365.1 615.4h0.6M358.8 609.4h0.6M362.5 609.6h0.6M360.3 575.9h0.6M361.4 617.6h0.6M357.3 608.3h0.6M365.1 583.1h0.6M339.5 582.1h0.6M335.5 600.8h0.6M360.3 602.5h0.6M356.1 623.2h0.6M355.1 602.1h0.6M362.8 609.9h0.6M357.7 609.5h0.6M358.7 611.9h0.6M358.9 592.8h0.6M339.2 596.3h0.6M357.6 590.6h0.6M349.6 601.5h0.6M361.6 612.6h0.6M363.9 611.2h0.6M351.0 586.0h0.6M350.9 593.4h0.6M354.9 576.0h0.6M362.9 606.3h0.6M355.1 576.9h0.6M360.0 607.1h0.6M363.8 604.7h0.6M357.6 585.3h0.6M362.5 577.7h0.6M364.2 623.0h0.6M353.6 620.6h0.6M348.3 601.0h0.6M355.1 619.5h0.6M361.2 600.9h0.6M360.2 597.6h0.6M364.0 577.5h0.6M354.9 594.2h0.6M357.6 600.0h0.6M360.2 599.3h0.6M357.6 605.6h0.6M362.6 612.0h0.6M357.6 615.9h0.6M361.6 603.5h0.6M360.0 616.6h0.6M352.1 580.4h0.6M357.6 612.9h0.6M362.5 613.6h0.6M366.8 610.6h0.6M358.6 620.5h0.6M351.0 600.3h0.6M356.4 600.3h0.6M357.5 584.1h0.6M356.0 588.9h0.6M354.7 604.4h0.6M350.8 606.8h0.6M361.6 578.3h0.6M361.2 577.8h0.6M364.2 575.6h0.6M358.6 594.7h0.6M359.9 605.5h0.6M364.1 581.2h0.6M360.1 606.9h0.6M352.1 607.3h0.6M357.5 593.6h0.6M361.4 619.3h0.6M358.7 593.5h0.6M356.4 596.9h0.6M358.6 575.7h0.6M339.3 620.6h0.6M355.0 614.0h0.6M356.1 594.9h0.6M361.3 610.0h0.6M354.7 575.5h0.6M353.6 584.1h0.6M354.9 594.5h0.6M361.5 577.9h0.6M354.7 584.6h0.6M356.4 589.5h0.6M358.6 592.8h0.6M349.8 606.1h0.6M355.1 596.7h0.6M358.6 583.7h0.6M364.1 597.5h0.6M353.4 594.9h0.6M353.5 605.1h0.6M349.7 614.7h0.6M342.0 589.4h0.6M360.3 592.5h0.6M349.9 581.2h0.6M365.5 598.5h0.6M359.0 593.7h0.6M362.9 600.5h0.6M364.2 607.3h0.6M352.3 595.6h0.6M350.8 585.9h0.6M358.9 599.3h0.6M357.3 589.7h0.6M360.2 611.5h0.6M361.2 602.0h0.6M360.1 603.8h0.6M357.7 608.0h0.6M362.9 587.3h0.6M359.9 599.7h0.6M352.2 594.0h0.6M348.4 603.9h0.6M349.8 594.4h0.6M360.0 577.5h0.6M360.3 621.9h0.6M358.6 592.1h0.6M361.2 601.1h0.6M362.8 580.6h0.6M357.3 578.5h0.6M357.6 586.7h0.6M339.3 610.3h0.6M358.6 620.7h0.6M344.3 605.7h0.6M357.7 619.4h0.6M359.0 593.3h0.6M350.8 608.5h0.6M364.0 609.1h0.6M356.3 575.4h0.6M357.7 605.4h0.6M364.1 582.0h0.6M352.3 608.6h0.6M354.8 583.2h0.6M356.4 575.4h0.6M356.1 620.3h0.6M362.6 614.5h0.6M358.8 606.9h0.6M356.3 602.5h0.6M359.9 595.8h0.6M353.5 611.3h0.6M357.3 603.8h0.6M353.8 586.2h0.6M356.0 587.3h0.6M360.3 612.3h0.6M357.4 575.3h0.6M337.9 589.7h0.6M352.5 619.2h0.6M359.9 586.3h0.6M353.4 581.5h0.6M360.3 586.7h0.6M359.0 575.8h0.6M356.4 613.4h0.6M357.7 602.9h0.6M357.6 609.5h0.6M358.6 602.8h0.6M353.6 580.7h0.6M364.1 602.4h0.6M349.8 577.7h0.6M356.2 580.5h0.6M361.2 587.2h0.6M361.6 610.3h0.6M357.3 611.2h0.6M336.7 601.5h0.6M360.2 613.6h0.6M356.3 589.4h0.6M363.9 614.1h0.6M356.2 622.3h0.6M365.4 591.7h0.6M349.8 594.5h0.6M358.8 610.9h0.6M361.2 606.1h0.6M357.5 615.2h0.6M357.4 599.9h0.6M358.7 617.1h0.6M357.4 601.9h0.6M356.1 575.6h0.6M354.8 589.1h0.6M354.8 580.1h0.6M357.5 590.8h0.6M358.8 589.2h0.6M356.1 596.3h0.6M357.7 605.7h0.6M361.3 612.9h0.6M342.1 593.1h0.6M360.0 584.8h0.6M357.7 590.4h0.6M356.0 618.9h0.6M362.7 613.4h0.6M351.0 602.8h0.6M357.3 585.8h0.6M353.4 584.1h0.6M346.0 578.4h0.6M356.4 611.0h0.6M347.2 608.1h0.6M356.1 613.4h0.6M351.2 590.6h0.6M361.5 582.0h0.6M352.2 606.5h0.6M356.0 588.4h0.6M356.3 620.7h0.6M364.0 619.4h0.6M361.2 592.5h0.6M355.1 618.3h0.6M359.0 621.5h0.6M364.1 592.5h0.6M351.1 591.4h0.6M358.9 589.9h0.6M358.8 609.3h0.6M362.6 584.9h0.6M360.1 618.0h0.6M353.6 581.3h0.6M358.9 620.4h0.6M360.2 585.8h0.6M366.4 611.8h0.6M360.2 602.3h0.6M352.1 603.7h0.6M350.8 596.1h0.6M356.0 584.7h0.6M358.7 620.3h0.6M338.0 594.9h0.6M358.7 606.4h0.6M360.0 620.8h0.6M356.0 597.8h0.6M355.1 595.0h0.6M362.6 616.2h0.6M360.0 591.9h0.6M358.9 609.7h0.6M361.6 613.1h0.6M362.8 578.6h0.6M359.0 597.6h0.6M365.5 618.1h0.6M355.0 581.8h0.6M354.7 579.4h0.6M355.1 589.0h0.6M358.8 583.9h0.6M359.0 589.5h0.6M364.2 583.6h0.6M358.9 577.4h0.6M358.7 610.2h0.6M356.1 594.5h0.6M348.3 615.9h0.6M341.9 582.1h0.6M349.8 622.9h0.6M364.2 593.5h0.6M360.3 622.3h0.6M360.1 594.6h0.6M355.1 596.7h0.6M356.3 622.3h0.6M352.2 577.2h0.6M353.7 611.2h0.6M360.2 620.6h0.6M365.5 577.7h0.6M352.2 578.5h0.6M336.9 586.3h0.6M356.2 586.4h0.6M357.4 601.3h0.6M362.5 608.7h0.6M361.3 609.7h0.6M345.9 591.0h0.6M344.3 575.2h0.6M356.3 588.8h0.6M354.7 601.3h0.6M359.9 617.6h0.6M355.0 594.6h0.6M357.5 599.5h0.6M361.3 615.9h0.6M357.6 595.5h0.6M354.8 622.8h0.6M349.9 607.4h0.6M356.0 603.1h0.6M357.4 612.5h0.6M349.9 596.7h0.6M352.3 592.0h0.6M351.2 582.9h0.6M358.9 576.6h0.6M357.5 619.5h0.6M364.1 581.7h0.6M362.9 614.8h0.6M357.6 581.0h0.6M354.8 578.9h0.6" stroke="#1d0812" stroke-width="0.6" fill="none"/>
<path d="M358.6 600.1h0.7M356.2 598.3h0.7M344.5 598.8h0.7M346.0 599.1h0.7M349.5 600.1h0.7M340.4 600.1h0.7M349.8 598.2h0.7M352.1 601.5h0.7M339.2 599.0h0.7M347.2 597.9h0.7M353.6 601.9h0.7M356.4 602.3h0.7M336.6 598.2h0.7M350.8 597.9h0.7M354.9 599.9h0.7M357.6 599.6h0.7M360.3 597.7h0.7M355.0 598.0h0.7M352.4 597.9h0.7M343.1 598.1h0.7M355.1 600.1h0.7M360.1 597.9h0.7M352.2 597.7h0.7M366.4 599.3h0.7M341.8 602.4h0.7M347.2 601.5h0.7M352.1 599.4h0.7M365.3 599.6h0.7M351.2 602.3h0.7M350.8 599.1h0.7M353.6 602.2h0.7M340.4 599.4h0.7M340.8 601.3h0.7M352.2 600.8h0.7M365.1 598.5h0.7M356.4 599.8h0.7M361.4 599.4h0.7M355.1 598.9h0.7M349.9 600.7h0.7M362.5 598.9h0.7M361.2 601.4h0.7M348.5 600.1h0.7M356.1 600.1h0.7M357.7 599.0h0.7M352.5 600.9h0.7M356.2 602.0h0.7M342.1 597.8h0.7M344.7 597.7h0.7M364.2 600.4h0.7M353.8 598.6h0.7M366.7 599.0h0.7M353.7 599.5h0.7M362.8 601.4h0.7M349.9 601.5h0.7M353.8 600.2h0.7M336.6 601.6h0.7M341.9 599.7h0.7M347.0 601.3h0.7M345.9 598.8h0.7M340.5 599.6h0.7M361.3 599.3h0.7M339.5 599.0h0.7M350.8 601.9h0.7M359.0 599.5h0.7M357.6 597.9h0.7M336.6 600.3h0.7M365.2 598.7h0.7M354.7 597.7h0.7M357.5 602.0h0.7M336.5 601.0h0.7M358.7 599.2h0.7M348.3 598.3h0.7M357.7 602.4h0.7M347.2 598.5h0.7M357.6 600.1h0.7M352.3 600.2h0.7M339.3 602.5h0.7M338.2 601.0h0.7M340.7 598.5h0.7M339.3 602.3h0.7M351.1 600.8h0.7M343.1 600.5h0.7M362.7 599.0h0.7M335.4 601.4h0.7M336.6 599.9h0.7M365.1 598.1h0.7M359.9 599.4h0.7M348.2 597.9h0.7M351.0 600.9h0.7M347.0 602.1h0.7M356.3 599.8h0.7M342.1 599.0h0.7M364.2 597.8h0.7M356.1 597.6h0.7M361.5 600.0h0.7M344.4 598.8h0.7M349.5 600.0h0.7M362.8 601.8h0.7M351.1 598.5h0.7M350.9 600.0h0.7M349.7 597.8h0.7M338.2 597.6h0.7M344.7 599.1h0.7M349.8 598.7h0.7M349.6 600.5h0.7M352.2 598.6h0.7M354.9 599.7h0.7M352.4 600.6h0.7M362.5 598.9h0.7M362.7 601.7h0.7M364.2 599.2h0.7M345.8 602.3h0.7M345.6 599.4h0.7M348.5 602.0h0.7M357.5 599.0h0.7M360.2 597.8h0.7M356.0 599.1h0.7M341.7 598.3h0.7M334.2 599.6h0.7M352.3 601.1h0.7M357.5 601.6h0.7M358.6 599.3h0.7M357.7 598.3h0.7M345.6 601.0h0.7M348.5 600.1h0.7M360.3 600.6h0.7M350.9 601.7h0.7M357.7 601.0h0.7M348.5 601.9h0.7M361.3 598.3h0.7M352.5 600.5h0.7M357.3 602.0h0.7M356.3 600.4h0.7M358.9 600.9h0.7M358.9 598.0h0.7M348.5 600.9h0.7M356.0 601.8h0.7M352.3 598.0h0.7M339.2 599.2h0.7M357.7 597.7h0.7M356.4 599.0h0.7M351.0 602.4h0.7M360.1 599.2h0.7M363.8 600.5h0.7M351.0 601.1h0.7M348.4 598.5h0.7M360.0 601.4h0.7M354.8 601.4h0.7M366.5 599.5h0.7M343.3 601.7h0.7M350.9 599.3h0.7M354.8 600.9h0.7M340.8 600.1h0.7M362.6 599.8h0.7M351.2 598.1h0.7M343.0 599.8h0.7M347.1 598.3h0.7M339.5 598.5h0.7M353.7 598.1h0.7M345.6 599.7h0.7M345.9 599.1h0.7M364.2 597.8h0.7M350.9 598.4h0.7M337.8 599.6h0.7M347.3 600.9h0.7M364.0 601.2h0.7M360.3 597.5h0.7M335.5 597.9h0.7M348.2 601.7h0.7M356.2 599.7h0.7M345.8 598.7h0.7M348.2 598.8h0.7M350.8 602.4h0.7M336.9 601.3h0.7M365.3 598.2h0.7M348.2 599.8h0.7M361.2 597.9h0.7M343.3 597.7h0.7M340.5 599.1h0.7M362.6 598.6h0.7M345.9 598.9h0.7M348.4 599.1h0.7M339.3 601.1h0.7M360.1 601.0h0.7M358.6 602.4h0.7M352.5 602.2h0.7M336.8 598.1h0.7M337.9 597.8h0.7M336.6 601.4h0.7M345.8 601.8h0.7M361.6 598.7h0.7M365.2 602.1h0.7M350.9 601.8h0.7M355.0 598.1h0.7M352.3 601.8h0.7M348.5 601.8h0.7M342.0 599.7h0.7M353.8 600.0h0.7M341.7 600.3h0.7M349.8 597.6h0.7" stroke="#1d0812" stroke-width="0.7" fill="none"/>
<path d="M392.5 622.0h0.6M388.6 620.6h0.6M392.4 586.7h0.6M392.8 611.1h0.6M392.8 575.6h0.6M393.9 582.8h0.6M392.8 585.4h0.6M392.7 589.8h0.6M396.5 582.8h0.6M395.1 579.1h0.6M393.8 621.4h0.6M395.1 614.4h0.6M390.1 603.9h0.6M396.6 618.9h0.6M391.1 573.4h0.6M388.9 585.5h0.6M393.9 574.0h0.6M395.2 582.6h0.6M394.0 613.8h0.6M394.0 588.6h0.6M388.9 585.1h0.6M396.3 594.8h0.6M393.7 616.5h0.6M396.5 596.7h0.6M392.8 582.3h0.6M392.5 611.6h0.6M391.1 581.7h0.6M395.1 616.3h0.6M389.8 591.2h0.6M393.7 588.0h0.6M391.1 601.0h0.6M392.4 620.2h0.6M395.3 614.7h0.6M392.4 586.4h0.6M389.8 583.9h0.6M393.9 578.8h0.6M397.7 597.9h0.6M393.7 599.8h0.6M394.0 600.5h0.6M396.5 605.7h0.6M392.7 594.3h0.6M389.8 587.5h0.6M395.0 599.2h0.6M394.1 576.1h0.6M392.5 619.2h0.6M393.8 582.4h0.6M388.5 604.8h0.6M393.8 575.8h0.6M396.6 592.0h0.6M392.5 602.4h0.6M392.4 622.0h0.6M392.8 584.1h0.6M391.4 607.0h0.6M393.9 586.6h0.6M393.7 575.1h0.6M393.7 607.4h0.6M393.8 612.4h0.6M388.5 580.3h0.6M396.4 576.3h0.6M393.9 600.3h0.6M390.0 588.7h0.6M391.3 611.1h0.6M392.5 599.7h0.6M395.2 593.5h0.6M397.9 581.4h0.6M392.6 579.3h0.6M393.8 616.9h0.6M392.6 573.1h0.6M396.6 612.5h0.6M384.8 591.6h0.6M393.9 610.2h0.6M393.9 578.0h0.6M391.1 610.9h0.6M395.4 614.6h0.6M395.1 599.0h0.6M398.0 622.0h0.6M392.8 590.7h0.6M391.2 620.8h0.6M391.1 592.2h0.6M393.9 579.8h0.6M391.4 583.7h0.6M395.1 609.5h0.6M391.2 573.2h0.6M392.6 610.7h0.6M391.1 606.1h0.6M389.9 598.0h0.6M390.2 589.2h0.6M390.1 582.2h0.6M396.7 589.5h0.6M392.5 573.0h0.6M390.2 614.9h0.6M397.9 613.2h0.6M400.6 588.8h0.6M385.9 615.5h0.6M390.2 589.2h0.6M396.7 594.0h0.6M397.6 618.9h0.6M393.9 596.9h0.6M395.0 612.0h0.6M388.8 608.7h0.6M396.5 590.0h0.6M394.0 596.3h0.6M396.7 593.3h0.6M392.5 583.2h0.6M393.9 609.1h0.6M396.7 598.9h0.6M391.2 588.2h0.6M392.6 594.8h0.6M390.0 621.6h0.6M387.5 601.5h0.6M391.5 576.7h0.6M393.9 590.0h0.6M395.2 593.4h0.6M392.6 599.1h0.6M396.3 598.4h0.6M394.0 588.9h0.6M394.0 607.5h0.6M395.4 600.3h0.6M392.7 581.6h0.6M391.2 606.2h0.6M390.0 604.2h0.6M392.7 588.2h0.6M395.3 600.2h0.6M389.9 592.9h0.6M398.9 581.5h0.6M393.7 611.7h0.6M399.0 613.1h0.6M390.2 579.9h0.6M391.4 599.0h0.6M397.7 601.8h0.6M392.6 595.7h0.6M387.3 618.5h0.6M390.1 588.0h0.6M394.0 579.2h0.6M398.0 597.8h0.6M397.9 585.7h0.6M393.7 577.7h0.6M391.2 590.8h0.6M398.0 573.5h0.6M391.4 583.2h0.6M387.5 608.3h0.6M397.6 613.2h0.6M396.6 583.9h0.6M394.1 593.4h0.6M388.6 583.4h0.6M391.1 580.5h0.6M392.8 604.1h0.6M393.8 593.5h0.6M391.3 618.2h0.6M394.0 578.9h0.6M392.4 616.2h0.6M397.8 578.5h0.6M396.3 621.4h0.6M395.0 608.0h0.6M391.1 594.8h0.6M396.6 588.9h0.6M395.1 584.2h0.6M392.4 584.3h0.6M397.8 577.1h0.6M392.5 604.3h0.6M397.8 575.2h0.6M395.4 581.6h0.6M387.2 574.5h0.6M394.1 586.3h0.6M391.2 595.9h0.6M396.4 579.6h0.6M392.6 614.5h0.6M392.7 620.8h0.6M392.8 601.7h0.6M395.1 607.8h0.6M393.9 603.7h0.6M393.9 603.8h0.6M397.8 577.5h0.6M393.9 603.6h0.6M391.5 614.3h0.6M392.7 584.0h0.6M394.0 615.2h0.6M391.2 585.6h0.6M393.9 600.0h0.6M389.8 589.6h0.6M392.6 576.9h0.6M391.5 574.7h0.6M395.1 603.5h0.6M391.2 617.8h0.6M391.4 609.2h0.6M393.8 593.1h0.6M392.7 589.3h0.6M393.8 585.3h0.6M395.2 588.6h0.6M395.0 606.3h0.6M391.5 609.3h0.6M388.8 611.5h0.6M395.0 604.9h0.6M393.9 617.9h0.6M394.0 578.1h0.6M400.3 608.2h0.6M388.5 587.1h0.6M395.4 609.2h0.6M391.3 593.4h0.6M391.3 588.6h0.6M395.4 584.2h0.6M396.4 581.9h0.6M396.3 586.8h0.6M393.7 601.5h0.6M394.0 619.6h0.6M396.6 603.5h0.6M395.2 575.2h0.6M394.1 578.4h0.6M393.8 586.0h0.6M396.4 619.3h0.6M396.3 609.5h0.6M396.7 598.4h0.6M394.0 616.8h0.6M388.6 591.1h0.6M395.4 611.9h0.6M392.5 586.5h0.6M392.5 580.2h0.6M391.1 581.4h0.6M395.1 615.1h0.6M393.9 596.0h0.6M396.3 600.7h0.6M388.9 619.9h0.6M400.2 621.7h0.6M395.4 585.8h0.6M395.4 607.6h0.6M395.1 583.4h0.6M392.6 592.9h0.6M396.5 597.4h0.6M396.5 610.2h0.6M388.5 588.4h0.6M394.0 583.7h0.6M388.8 601.1h0.6M396.7 621.2h0.6M392.8 619.2h0.6M391.4 580.4h0.6M395.3 620.4h0.6M398.0 582.3h0.6M391.4 612.8h0.6M395.0 588.2h0.6M395.2 579.2h0.6M389.9 621.5h0.6M395.0 597.5h0.6M393.7 585.0h0.6M392.8 605.5h0.6M390.0 578.3h0.6M395.0 595.3h0.6M392.8 577.1h0.6M395.0 594.0h0.6M396.4 579.4h0.6M391.5 584.0h0.6M390.2 581.5h0.6M397.8 592.0h0.6M395.2 597.2h0.6M391.4 578.1h0.6M390.2 621.4h0.6M389.9 596.7h0.6M391.2 598.7h0.6M396.5 614.3h0.6M395.1 578.7h0.6M389.8 594.6h0.6M394.0 584.6h0.6M390.0 596.1h0.6M394.1 621.0h0.6M393.7 582.5h0.6M395.1 589.0h0.6M393.9 622.0h0.6M396.6 613.0h0.6M395.4 577.9h0.6M392.7 595.7h0.6M390.0 602.8h0.6M391.2 581.4h0.6M395.0 616.0h0.6M395.2 587.7h0.6M396.7 604.7h0.6M395.0 609.0h0.6M392.7 592.4h0.6M394.1 614.7h0.6M394.0 590.7h0.6M395.4 609.5h0.6M386.1 618.0h0.6M399.3 585.9h0.6M395.0 594.2h0.6M395.2 605.9h0.6M397.7 589.4h0.6M389.9 614.3h0.6M391.2 586.6h0.6M389.8 621.6h0.6M394.1 580.6h0.6M392.4 599.8h0.6M396.6 603.8h0.6M397.9 608.7h0.6M399.1 619.1h0.6M387.3 603.1h0.6M391.3 597.4h0.6M390.1 607.6h0.6M395.1 596.7h0.6M392.5 587.9h0.6M387.6 600.0h0.6M396.5 599.5h0.6M391.3 618.1h0.6M395.4 587.3h0.6M395.3 613.5h0.6M395.3 580.6h0.6M390.2 581.1h0.6M393.8 617.8h0.6M392.5 604.2h0.6M391.4 607.8h0.6M391.3 605.8h0.6M393.7 588.0h0.6M391.1 583.9h0.6M394.1 583.6h0.6M396.7 616.4h0.6M395.3 590.7h0.6M392.5 604.7h0.6M396.7 574.5h0.6M396.3 599.1h0.6M386.1 594.6h0.6M389.8 620.9h0.6M391.1 573.5h0.6M394.1 604.0h0.6M391.1 596.8h0.6M391.5 591.1h0.6M393.8 614.0h0.6M390.2 593.4h0.6M396.4 578.5h0.6M396.4 604.8h0.6M395.2 604.7h0.6M393.9 595.4h0.6M391.2 593.4h0.6M392.4 596.2h0.6M393.8 620.2h0.6M392.5 609.0h0.6M393.7 587.0h0.6M394.1 616.6h0.6M391.5 591.2h0.6M389.9 584.1h0.6M391.3 575.0h0.6M394.0 611.9h0.6M389.8 618.3h0.6M395.3 578.2h0.6M392.7 580.8h0.6M387.2 600.5h0.6M398.0 575.3h0.6M396.4 580.4h0.6M395.0 590.1h0.6M399.1 604.6h0.6M394.0 613.7h0.6M400.3 619.5h0.6M395.0 615.9h0.6M397.7 598.9h0.6M395.2 613.3h0.6M393.8 589.3h0.6M395.0 604.5h0.6M391.5 610.9h0.6M392.5 614.8h0.6M391.1 597.3h0.6M395.4 611.8h0.6M393.9 592.9h0.6M396.4 593.1h0.6M395.0 584.7h0.6M393.8 602.0h0.6M396.7 600.4h0.6M392.5 579.4h0.6M392.5 594.3h0.6M395.0 591.2h0.6M392.4 607.1h0.6M398.9 615.5h0.6M394.0 573.3h0.6M394.0 607.0h0.6M392.7 604.4h0.6M393.9 597.5h0.6M392.7 619.9h0.6M392.6 602.1h0.6M394.0 590.6h0.6M391.3 601.1h0.6M387.4 590.0h0.6M393.7 579.6h0.6M391.4 589.1h0.6M391.1 587.1h0.6M390.1 603.4h0.6M395.3 607.1h0.6M393.8 595.5h0.6M391.3 573.3h0.6M393.9 587.0h0.6M392.7 589.1h0.6M387.2 587.9h0.6M395.2 611.5h0.6M391.3 609.7h0.6M392.4 620.5h0.6M396.4 581.7h0.6M397.8 573.9h0.6M392.6 577.5h0.6M391.3 619.6h0.6M399.0 584.4h0.6M394.1 583.4h0.6M393.9 621.2h0.6M392.4 587.9h0.6M392.6 596.6h0.6M392.4 588.3h0.6M395.4 574.0h0.6M392.4 575.9h0.6M392.5 608.7h0.6M390.2 606.8h0.6M394.1 605.2h0.6M387.6 597.2h0.6M395.0 618.9h0.6M386.1 615.0h0.6M392.6 621.9h0.6M392.8 601.6h0.6M394.1 617.8h0.6M395.3 621.7h0.6M392.7 613.6h0.6M388.6 578.6h0.6M394.1 586.0h0.6M391.4 612.8h0.6M389.9 610.2h0.6M394.1 610.4h0.6M391.2 608.5h0.6M392.7 601.8h0.6M391.2 597.6h0.6M392.4 618.0h0.6M396.4 581.6h0.6M392.5 620.2h0.6M400.6 607.4h0.6M395.2 581.3h0.6M394.1 619.0h0.6M392.7 622.0h0.6M396.5 615.8h0.6M390.2 594.3h0.6M395.3 596.1h0.6M390.2 605.6h0.6M394.0 614.8h0.6M392.4 615.4h0.6M388.5 597.2h0.6M392.8 615.2h0.6M394.1 612.6h0.6M392.4 587.6h0.6M395.3 595.3h0.6M391.2 582.8h0.6M393.8 587.5h0.6M392.6 590.2h0.6M392.5 575.2h0.6M390.1 619.3h0.6M391.5 599.1h0.6M396.3 588.3h0.6M392.7 614.1h0.6M391.3 577.9h0.6M389.8 612.2h0.6M391.5 576.2h0.6M395.3 584.3h0.6M400.3 583.6h0.6M396.4 615.2h0.6M395.2 588.4h0.6M391.1 590.8h0.6M390.0 619.7h0.6M391.4 592.5h0.6M392.6 597.0h0.6M395.3 592.6h0.6M392.8 616.3h0.6M392.6 617.5h0.6M393.7 598.3h0.6M389.9 576.2h0.6M394.0 598.7h0.6M399.0 595.0h0.6M392.5 619.1h0.6M395.2 598.5h0.6M392.5 605.2h0.6M384.7 598.0h0.6M392.5 575.8h0.6M395.0 616.1h0.6M391.4 589.8h0.6M394.1 584.5h0.6M388.6 574.9h0.6M398.0 603.4h0.6M390.0 598.7h0.6M394.0 619.1h0.6M393.8 617.7h0.6M392.6 584.9h0.6M391.1 613.5h0.6M391.5 603.2h0.6M397.8 579.2h0.6M395.4 598.0h0.6M392.5 596.9h0.6M394.1 574.7h0.6M393.8 578.9h0.6M396.7 599.8h0.6M391.1 587.9h0.6M394.0 593.1h0.6M386.0 581.6h0.6M395.2 609.0h0.6M396.4 619.5h0.6M395.2 577.7h0.6M395.2 608.1h0.6M392.7 611.9h0.6M391.5 593.0h0.6M395.3 610.8h0.6M393.9 602.7h0.6M388.5 576.8h0.6M392.7 591.5h0.6M400.6 581.4h0.6" stroke="#1d0812" stroke-width="0.6" fill="none"/>
<path d="M381.7 578.3h0.6M404.0 599.9h0.6M390.6 567.4h0.6M399.7 622.0h0.6M378.2 579.9h0.6M369.9 613.8h0.6M378.5 572.4h0.6M402.6 603.5h0.6M386.4 576.9h0.6M405.8 583.1h0.6M397.5 601.4h0.6M384.2 621.9h0.6M385.3 577.9h0.6M378.1 564.2h0.6M386.6 619.2h0.6M397.2 583.3h0.6M381.0 611.4h0.6M400.7 581.2h0.6M379.0 578.1h0.6M400.4 591.4h0.6M395.1 603.6h0.6M399.9 595.3h0.6M370.4 602.7h0.6M378.7 614.6h0.6M391.7 604.3h0.6M395.6 614.4h0.6M400.5 618.4h0.6M400.9 577.6h0.6M397.8 583.6h0.6M398.1 596.3h0.6M391.3 567.7h0.6M376.4 569.9h0.6M373.2 615.4h0.6M404.1 583.5h0.6M386.8 597.3h0.6M395.9 567.2h0.6M406.5 563.9h0.6M373.8 606.4h0.6M382.0 601.3h0.6M390.7 591.6h0.6M389.2 612.1h0.6M384.9 609.1h0.6M391.9 616.4h0.6M373.5 580.2h0.6M370.4 563.8h0.6M390.1 590.0h0.6M376.4 571.6h0.6M377.1 616.8h0.6M390.8 587.6h0.6M391.1 588.7h0.6M388.2 566.5h0.6M406.9 598.0h0.6M397.0 617.3h0.6M373.3 565.7h0.6M378.0 572.5h0.6M376.9 586.2h0.6M401.1 598.4h0.6M396.9 592.7h0.6M404.7 616.1h0.6M374.4 603.5h0.6M405.7 612.4h0.6M390.5 586.4h0.6M372.9 578.7h0.6M373.0 566.3h0.6M399.1 593.0h0.6M383.4 605.7h0.6M381.6 618.2h0.6M378.3 574.2h0.6M377.9 620.7h0.6M403.1 574.4h0.6" stroke="#1d0812" stroke-width="0.6" fill="none"/>
<text x="337.60" y="619.60" font-size="8.82" fill="#8a1a32" stroke="#8a1a32" stroke-width="0.16" textLength="22.50" lengthAdjust="spacingAndGlyphs" opacity="0.7">49.8%</text>
<path d="M368.4,560.0 V625.3 M332.2,599.8 H408.9" stroke="#111" stroke-width="1.1"/>
<rect x="332.2" y="560.0" width="76.7" height="65.3" fill="none" stroke="#111" stroke-width="1.6"/>
<text x="373.60" y="555.00" font-size="9.24" text-anchor="middle" stroke="#1c1c1c" stroke-width="0.16" textLength="48.70" lengthAdjust="spacingAndGlyphs">Input T cells</text>
<text x="0.00" y="0.00" font-size="9.24" text-anchor="middle" stroke="#1c1c1c" stroke-width="0.16" textLength="47.50" lengthAdjust="spacingAndGlyphs" transform="translate(328.4,588) rotate(-90)">EGFR APC</text>
<text x="370.00" y="635.20" font-size="9.24" text-anchor="middle" stroke="#1c1c1c" stroke-width="0.16" textLength="68.80" lengthAdjust="spacingAndGlyphs">CD8 APC-Vio770</text>
</svg></body></html>
